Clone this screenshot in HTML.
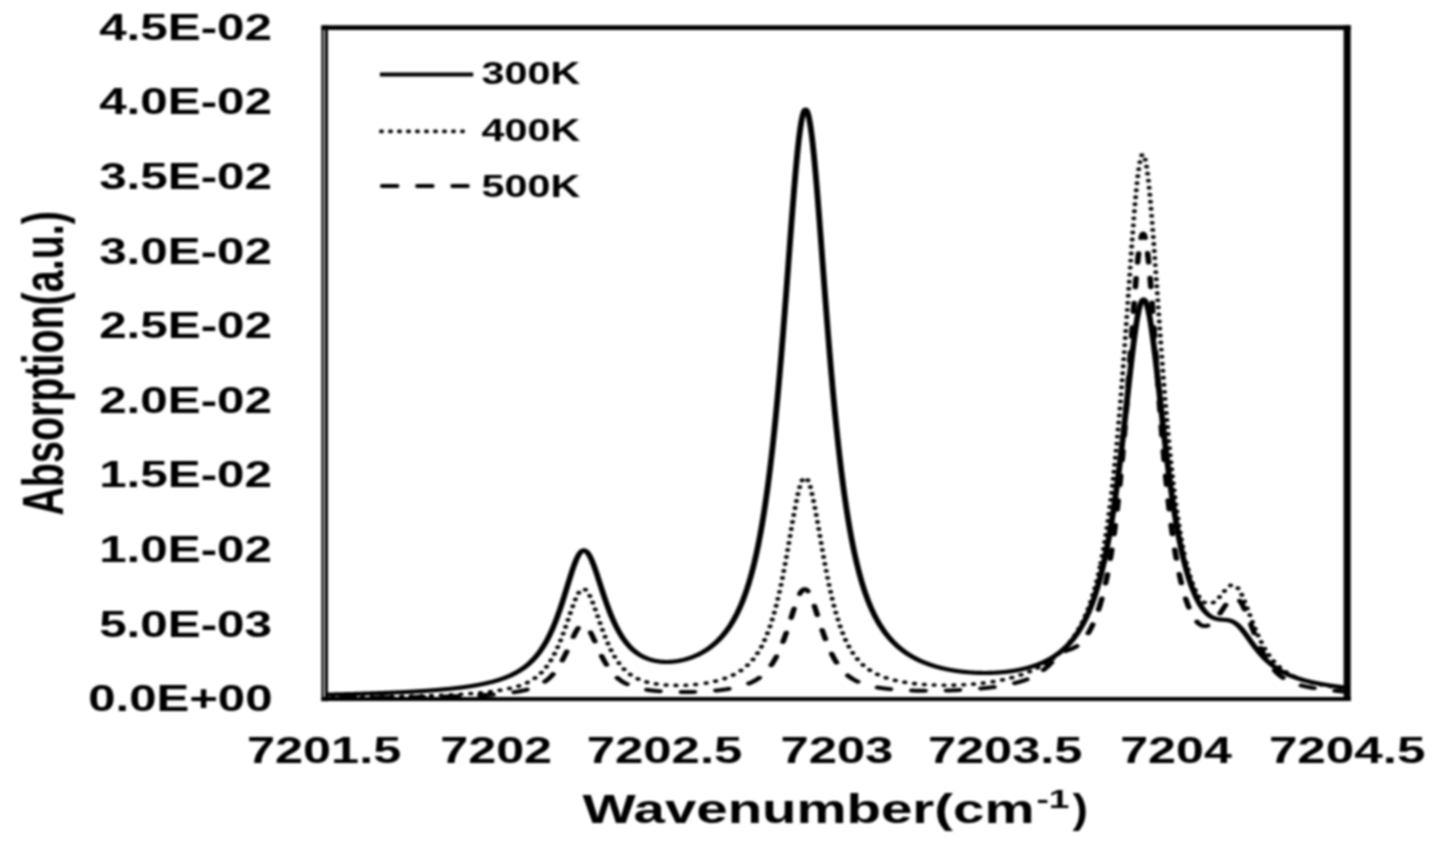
<!DOCTYPE html>
<html><head><meta charset="utf-8"><style>
html,body{margin:0;padding:0;background:#fff;width:1439px;height:848px;overflow:hidden}
svg{display:block;filter:blur(0.95px)}
</style></head><body>
<svg width="1439" height="848" viewBox="0 0 1439 848"><rect width="1439" height="848" fill="#fff"/><text x="99.2" y="39.6" font-family="'Liberation Sans', sans-serif" font-weight="bold" font-size="36.5" textLength="172.8" lengthAdjust="spacingAndGlyphs">4.5E-02</text>
<text x="99.2" y="114.2" font-family="'Liberation Sans', sans-serif" font-weight="bold" font-size="36.5" textLength="172.8" lengthAdjust="spacingAndGlyphs">4.0E-02</text>
<text x="99.2" y="188.9" font-family="'Liberation Sans', sans-serif" font-weight="bold" font-size="36.5" textLength="172.8" lengthAdjust="spacingAndGlyphs">3.5E-02</text>
<text x="99.2" y="263.5" font-family="'Liberation Sans', sans-serif" font-weight="bold" font-size="36.5" textLength="172.8" lengthAdjust="spacingAndGlyphs">3.0E-02</text>
<text x="99.2" y="338.2" font-family="'Liberation Sans', sans-serif" font-weight="bold" font-size="36.5" textLength="172.8" lengthAdjust="spacingAndGlyphs">2.5E-02</text>
<text x="99.2" y="412.8" font-family="'Liberation Sans', sans-serif" font-weight="bold" font-size="36.5" textLength="172.8" lengthAdjust="spacingAndGlyphs">2.0E-02</text>
<text x="99.2" y="487.4" font-family="'Liberation Sans', sans-serif" font-weight="bold" font-size="36.5" textLength="172.8" lengthAdjust="spacingAndGlyphs">1.5E-02</text>
<text x="99.2" y="562.1" font-family="'Liberation Sans', sans-serif" font-weight="bold" font-size="36.5" textLength="172.8" lengthAdjust="spacingAndGlyphs">1.0E-02</text>
<text x="99.2" y="636.7" font-family="'Liberation Sans', sans-serif" font-weight="bold" font-size="36.5" textLength="172.8" lengthAdjust="spacingAndGlyphs">5.0E-03</text>
<text x="88.2" y="711.4" font-family="'Liberation Sans', sans-serif" font-weight="bold" font-size="36.5" textLength="184.3" lengthAdjust="spacingAndGlyphs">0.0E+00</text>
<text x="247.0" y="763.4" font-family="'Liberation Sans', sans-serif" font-weight="bold" font-size="36.5" textLength="154.2" lengthAdjust="spacingAndGlyphs">7201.5</text>
<text x="440.3" y="763.4" font-family="'Liberation Sans', sans-serif" font-weight="bold" font-size="36.5" textLength="111.7" lengthAdjust="spacingAndGlyphs">7202</text>
<text x="586.8" y="763.4" font-family="'Liberation Sans', sans-serif" font-weight="bold" font-size="36.5" textLength="155.5" lengthAdjust="spacingAndGlyphs">7202.5</text>
<text x="780.5" y="763.4" font-family="'Liberation Sans', sans-serif" font-weight="bold" font-size="36.5" textLength="112.8" lengthAdjust="spacingAndGlyphs">7203</text>
<text x="927.9" y="763.4" font-family="'Liberation Sans', sans-serif" font-weight="bold" font-size="36.5" textLength="154.6" lengthAdjust="spacingAndGlyphs">7203.5</text>
<text x="1120.2" y="763.4" font-family="'Liberation Sans', sans-serif" font-weight="bold" font-size="36.5" textLength="111.6" lengthAdjust="spacingAndGlyphs">7204</text>
<text x="1268.9" y="763.4" font-family="'Liberation Sans', sans-serif" font-weight="bold" font-size="36.5" textLength="156.6" lengthAdjust="spacingAndGlyphs">7204.5</text>
<text x="582.5" y="822.7" font-family="'Liberation Sans', sans-serif" font-weight="bold" font-size="41"><tspan textLength="452" lengthAdjust="spacingAndGlyphs">Wavenumber(cm</tspan></text>
<text x="1036.5" y="808.2" font-family="'Liberation Sans', sans-serif" font-weight="bold" font-size="26" textLength="33" lengthAdjust="spacingAndGlyphs">-1</text>
<text x="1072.5" y="822.7" font-family="'Liberation Sans', sans-serif" font-weight="bold" font-size="41" textLength="15.5" lengthAdjust="spacingAndGlyphs">)</text>
<text transform="translate(62.5,515.6) rotate(-90)" font-family="'Liberation Sans', sans-serif" font-weight="bold" font-size="58" textLength="304.4" lengthAdjust="spacingAndGlyphs">Absorption(a.u.)</text>
<line x1="379.9" y1="74.4" x2="473.2" y2="74.4" stroke="#000" stroke-width="4.0"/>
<line x1="380.8" y1="131.4" x2="464.5" y2="131.4" stroke="#000" stroke-width="3.6" stroke-linecap="round" stroke-dasharray="1.4 7.6"/>
<line x1="381.9" y1="186" x2="468.5" y2="186" stroke="#000" stroke-width="3.97" stroke-linecap="round" stroke-dasharray="15.5 19.7"/>
<text x="481.6" y="84.2" font-family="'Liberation Sans', sans-serif" font-weight="bold" font-size="31" textLength="98.6" lengthAdjust="spacingAndGlyphs">300K</text>
<text x="481.6" y="141.1" font-family="'Liberation Sans', sans-serif" font-weight="bold" font-size="31" textLength="98.6" lengthAdjust="spacingAndGlyphs">400K</text>
<text x="481.6" y="196.6" font-family="'Liberation Sans', sans-serif" font-weight="bold" font-size="31" textLength="98.6" lengthAdjust="spacingAndGlyphs">500K</text>
<rect x="321.4" y="25.3" width="2.2" height="676" fill="#000"/>
<rect x="324.9" y="25.3" width="3.0" height="676" fill="#000"/>
<line x1="321.4" y1="27.57" x2="1350.7" y2="27.57" stroke="#000" stroke-width="4.66"/>
<line x1="1347.18" y1="25.3" x2="1347.18" y2="701" stroke="#000" stroke-width="7.06"/>
<line x1="321.4" y1="699.0" x2="1350.7" y2="699.0" stroke="#000" stroke-width="4.2"/>
<g transform="scale(1.4,1)" fill="none" stroke="#000" stroke-linejoin="round">
<path d="M232.86,694.61 233.21,694.60 233.57,694.59 233.93,694.58 234.29,694.57 234.64,694.56 235.00,694.55 235.36,694.54 235.71,694.53 236.07,694.51 236.43,694.50 236.79,694.49 237.14,694.48 237.50,694.47 237.86,694.46 238.21,694.45 238.57,694.44 238.93,694.42 239.29,694.41 239.64,694.40 240.00,694.39 240.36,694.38 240.71,694.37 241.07,694.36 241.43,694.34 241.79,694.33 242.14,694.32 242.50,694.31 242.86,694.30 243.21,694.28 243.57,694.27 243.93,694.26 244.29,694.25 244.64,694.24 245.00,694.22 245.36,694.21 245.71,694.20 246.07,694.19 246.43,694.17 246.79,694.16 247.14,694.15 247.50,694.13 247.86,694.12 248.21,694.11 248.57,694.10 248.93,694.08 249.29,694.07 249.64,694.06 250.00,694.04 250.36,694.03 250.71,694.02 251.07,694.00 251.43,693.99 251.79,693.98 252.14,693.96 252.50,693.95 252.86,693.94 253.21,693.92 253.57,693.91 253.93,693.89 254.29,693.88 254.64,693.87 255.00,693.85 255.36,693.84 255.71,693.82 256.07,693.81 256.43,693.79 256.79,693.78 257.14,693.76 257.50,693.75 257.86,693.73 258.21,693.72 258.57,693.70 258.93,693.69 259.29,693.67 259.64,693.66 260.00,693.64 260.36,693.63 260.71,693.61 261.07,693.60 261.43,693.58 261.79,693.57 262.14,693.55 262.50,693.53 262.86,693.52 263.21,693.50 263.57,693.49 263.93,693.47 264.29,693.45 264.64,693.44 265.00,693.42 265.36,693.40 265.71,693.39 266.07,693.37 266.43,693.35 266.79,693.34 267.14,693.32 267.50,693.30 267.86,693.29 268.21,693.27 268.57,693.25 268.93,693.23 269.29,693.22 269.64,693.20 270.00,693.18 270.36,693.16 270.71,693.14 271.07,693.12 271.43,693.11 271.79,693.09 272.14,693.07 272.50,693.05 272.86,693.03 273.21,693.01 273.57,692.99 273.93,692.98 274.29,692.96 274.64,692.94 275.00,692.92 275.36,692.90 275.71,692.88 276.07,692.86 276.43,692.84 276.79,692.82 277.14,692.80 277.50,692.78 277.86,692.76 278.21,692.74 278.57,692.72 278.93,692.70 279.29,692.67 279.64,692.65 280.00,692.63 280.36,692.61 280.71,692.59 281.07,692.57 281.43,692.55 281.79,692.52 282.14,692.50 282.50,692.48 282.86,692.46 283.21,692.43 283.57,692.41 283.93,692.39 284.29,692.37 284.64,692.34 285.00,692.32 285.36,692.30 285.71,692.27 286.07,692.25 286.43,692.23 286.79,692.20 287.14,692.18 287.50,692.15 287.86,692.13 288.21,692.10 288.57,692.08 288.93,692.06 289.29,692.03 289.64,692.00 290.00,691.98 290.36,691.95 290.71,691.93 291.07,691.90 291.43,691.88 291.79,691.85 292.14,691.82 292.50,691.80 292.86,691.77 293.21,691.74 293.57,691.71 293.93,691.69 294.29,691.66 294.64,691.63 295.00,691.60 295.36,691.58 295.71,691.55 296.07,691.52 296.43,691.49 296.79,691.46 297.14,691.43 297.50,691.40 297.86,691.37 298.21,691.34 298.57,691.31 298.93,691.28 299.29,691.25 299.64,691.22 300.00,691.19 300.36,691.16 300.71,691.13 301.07,691.09 301.43,691.06 301.79,691.03 302.14,691.00 302.50,690.96 302.86,690.93 303.21,690.90 303.57,690.86 303.93,690.83 304.29,690.80 304.64,690.76 305.00,690.73 305.36,690.69 305.71,690.66 306.07,690.62 306.43,690.59 306.79,690.55 307.14,690.51 307.50,690.48 307.86,690.44 308.21,690.40 308.57,690.37 308.93,690.33 309.29,690.29 309.64,690.25 310.00,690.21 310.36,690.17 310.71,690.14 311.07,690.10 311.43,690.06 311.79,690.02 312.14,689.97 312.50,689.93 312.86,689.89 313.21,689.85 313.57,689.81 313.93,689.77 314.29,689.72 314.64,689.68 315.00,689.64 315.36,689.59 315.71,689.55 316.07,689.50 316.43,689.46 316.79,689.41 317.14,689.37 317.50,689.32 317.86,689.27 318.21,689.23 318.57,689.18 318.93,689.13 319.29,689.08 319.64,689.03 320.00,688.99 320.36,688.94 320.71,688.89 321.07,688.83 321.43,688.78 321.79,688.73 322.14,688.68 322.50,688.63 322.86,688.57 323.21,688.52 323.57,688.47 323.93,688.41 324.29,688.36 324.64,688.30 325.00,688.25 325.36,688.19 325.71,688.13 326.07,688.07 326.43,688.01 326.79,687.96 327.14,687.90 327.50,687.84 327.86,687.78 328.21,687.71 328.57,687.65 328.93,687.59 329.29,687.53 329.64,687.46 330.00,687.40 330.36,687.33 330.71,687.27 331.07,687.20 331.43,687.13 331.79,687.07 332.14,687.00 332.50,686.93 332.86,686.86 333.21,686.79 333.57,686.71 333.93,686.64 334.29,686.57 334.64,686.50 335.00,686.42 335.36,686.35 335.71,686.27 336.07,686.19 336.43,686.11 336.79,686.03 337.14,685.95 337.50,685.87 337.86,685.79 338.21,685.71 338.57,685.63 338.93,685.54 339.29,685.46 339.64,685.37 340.00,685.28 340.36,685.19 340.71,685.11 341.07,685.01 341.43,684.92 341.79,684.83 342.14,684.74 342.50,684.64 342.86,684.55 343.21,684.45 343.57,684.35 343.93,684.25 344.29,684.15 344.64,684.05 345.00,683.95 345.36,683.84 345.71,683.74 346.07,683.63 346.43,683.52 346.79,683.41 347.14,683.30 347.50,683.19 347.86,683.07 348.21,682.96 348.57,682.84 348.93,682.72 349.29,682.60 349.64,682.48 350.00,682.36 350.36,682.23 350.71,682.11 351.07,681.98 351.43,681.85 351.79,681.72 352.14,681.58 352.50,681.45 352.86,681.31 353.21,681.17 353.57,681.03 353.93,680.89 354.29,680.74 354.64,680.59 355.00,680.45 355.36,680.29 355.71,680.14 356.07,679.98 356.43,679.83 356.79,679.67 357.14,679.50 357.50,679.34 357.86,679.17 358.21,679.00 358.57,678.83 358.93,678.65 359.29,678.48 359.64,678.30 360.00,678.11 360.36,677.93 360.71,677.74 361.07,677.55 361.43,677.35 361.79,677.15 362.14,676.95 362.50,676.75 362.86,676.54 363.21,676.33 363.57,676.12 363.93,675.90 364.29,675.68 364.64,675.45 365.00,675.22 365.36,674.99 365.71,674.75 366.07,674.51 366.43,674.27 366.79,674.02 367.14,673.77 367.50,673.51 367.86,673.25 368.21,672.98 368.57,672.71 368.93,672.43 369.29,672.15 369.64,671.87 370.00,671.58 370.36,671.28 370.71,670.98 371.07,670.67 371.43,670.36 371.79,670.04 372.14,669.72 372.50,669.39 372.86,669.05 373.21,668.71 373.57,668.36 373.93,668.00 374.29,667.64 374.64,667.27 375.00,666.90 375.36,666.51 375.71,666.12 376.07,665.72 376.43,665.32 376.79,664.90 377.14,664.48 377.50,664.05 377.86,663.61 378.21,663.16 378.57,662.71 378.93,662.24 379.29,661.76 379.64,661.28 380.00,660.79 380.36,660.28 380.71,659.77 381.07,659.24 381.43,658.70 381.79,658.16 382.14,657.60 382.50,657.03 382.86,656.45 383.21,655.85 383.57,655.25 383.93,654.63 384.29,654.00 384.64,653.35 385.00,652.70 385.36,652.03 385.71,651.34 386.07,650.64 386.43,649.93 386.79,649.20 387.14,648.45 387.50,647.69 387.86,646.92 388.21,646.13 388.57,645.32 388.93,644.49 389.29,643.65 389.64,642.79 390.00,641.92 390.36,641.02 390.71,640.11 391.07,639.18 391.43,638.23 391.79,637.26 392.14,636.27 392.50,635.26 392.86,634.23 393.21,633.18 393.57,632.11 393.93,631.02 394.29,629.91 394.64,628.78 395.00,627.62 395.36,626.45 395.71,625.25 396.07,624.03 396.43,622.79 396.79,621.53 397.14,620.25 397.50,618.94 397.86,617.61 398.21,616.27 398.57,614.90 398.93,613.51 399.29,612.09 399.64,610.66 400.00,609.21 400.36,607.74 400.71,606.25 401.07,604.75 401.43,603.22 401.79,601.68 402.14,600.12 402.50,598.55 402.86,596.97 403.21,595.38 403.57,593.77 403.93,592.16 404.29,590.54 404.64,588.91 405.00,587.28 405.36,585.65 405.71,584.03 406.07,582.40 406.43,580.78 406.79,579.17 407.14,577.57 407.50,575.98 407.86,574.42 408.21,572.87 408.57,571.34 408.93,569.85 409.29,568.38 409.64,566.95 410.00,565.55 410.36,564.19 410.71,562.88 411.07,561.62 411.43,560.40 411.79,559.25 412.14,558.15 412.50,557.11 412.86,556.13 413.21,555.23 413.57,554.39 413.93,553.63 414.29,552.94 414.64,552.34 415.00,551.81 415.36,551.36 415.71,551.00 416.07,550.73 416.43,550.53 416.79,550.43 417.14,550.41 417.50,550.48 417.86,550.63 418.21,550.87 418.57,551.19 418.93,551.60 419.29,552.08 419.64,552.65 420.00,553.29 420.36,554.01 420.71,554.80 421.07,555.66 421.43,556.58 421.79,557.57 422.14,558.62 422.50,559.72 422.86,560.88 423.21,562.09 423.57,563.34 423.93,564.64 424.29,565.97 424.64,567.34 425.00,568.75 425.36,570.18 425.71,571.63 426.07,573.11 426.43,574.60 426.79,576.12 427.14,577.64 427.50,579.17 427.86,580.72 428.21,582.26 428.57,583.81 428.93,585.36 429.29,586.90 429.64,588.44 430.00,589.98 430.36,591.51 430.71,593.02 431.07,594.53 431.43,596.02 431.79,597.50 432.14,598.97 432.50,600.42 432.86,601.85 433.21,603.27 433.57,604.66 433.93,606.04 434.29,607.40 434.64,608.73 435.00,610.05 435.36,611.34 435.71,612.62 436.07,613.87 436.43,615.10 436.79,616.31 437.14,617.50 437.50,618.66 437.86,619.80 438.21,620.92 438.57,622.02 438.93,623.10 439.29,624.16 439.64,625.19 440.00,626.20 440.36,627.19 440.71,628.16 441.07,629.11 441.43,630.04 441.79,630.95 442.14,631.84 442.50,632.71 442.86,633.56 443.21,634.39 443.57,635.20 443.93,635.99 444.29,636.77 444.64,637.53 445.00,638.27 445.36,638.99 445.71,639.69 446.07,640.38 446.43,641.05 446.79,641.71 447.14,642.35 447.50,642.98 447.86,643.59 448.21,644.18 448.57,644.76 448.93,645.33 449.29,645.88 449.64,646.42 450.00,646.94 450.36,647.45 450.71,647.95 451.07,648.44 451.43,648.91 451.79,649.37 452.14,649.82 452.50,650.26 452.86,650.69 453.21,651.10 453.57,651.51 453.93,651.90 454.29,652.28 454.64,652.66 455.00,653.02 455.36,653.37 455.71,653.72 456.07,654.05 456.43,654.37 456.79,654.69 457.14,655.00 457.50,655.29 457.86,655.58 458.21,655.86 458.57,656.14 458.93,656.40 459.29,656.66 459.64,656.91 460.00,657.15 460.36,657.38 460.71,657.61 461.07,657.83 461.43,658.04 461.79,658.25 462.14,658.45 462.50,658.64 462.86,658.82 463.21,659.00 463.57,659.18 463.93,659.34 464.29,659.51 464.64,659.66 465.00,659.81 465.36,659.95 465.71,660.09 466.07,660.22 466.43,660.35 466.79,660.47 467.14,660.59 467.50,660.70 467.86,660.80 468.21,660.90 468.57,661.00 468.93,661.09 469.29,661.18 469.64,661.26 470.00,661.33 470.36,661.40 470.71,661.47 471.07,661.53 471.43,661.59 471.79,661.65 472.14,661.70 472.50,661.74 472.86,661.78 473.21,661.82 473.57,661.85 473.93,661.88 474.29,661.90 474.64,661.92 475.00,661.94 475.36,661.95 475.71,661.96 476.07,661.96 476.43,661.96 476.79,661.96 477.14,661.95 477.50,661.94 477.86,661.92 478.21,661.90 478.57,661.88 478.93,661.85 479.29,661.82 479.64,661.79 480.00,661.75 480.36,661.71 480.71,661.66 481.07,661.62 481.43,661.56 481.79,661.51 482.14,661.45 482.50,661.38 482.86,661.32 483.21,661.25 483.57,661.17 483.93,661.10 484.29,661.01 484.64,660.93 485.00,660.84 485.36,660.75 485.71,660.65 486.07,660.55 486.43,660.45 486.79,660.34 487.14,660.23 487.50,660.12 487.86,660.00 488.21,659.88 488.57,659.76 488.93,659.63 489.29,659.50 489.64,659.36 490.00,659.22 490.36,659.08 490.71,658.93 491.07,658.78 491.43,658.62 491.79,658.46 492.14,658.30 492.50,658.14 492.86,657.96 493.21,657.79 493.57,657.61 493.93,657.43 494.29,657.24 494.64,657.05 495.00,656.86 495.36,656.66 495.71,656.45 496.07,656.25 496.43,656.04 496.79,655.82 497.14,655.60 497.50,655.37 497.86,655.14 498.21,654.91 498.57,654.67 498.93,654.43 499.29,654.18 499.64,653.93 500.00,653.67 500.36,653.41 500.71,653.14 501.07,652.87 501.43,652.59 501.79,652.31 502.14,652.02 502.50,651.73 502.86,651.43 503.21,651.13 503.57,650.82 503.93,650.50 504.29,650.18 504.64,649.86 505.00,649.53 505.36,649.19 505.71,648.84 506.07,648.49 506.43,648.14 506.79,647.78 507.14,647.41 507.50,647.03 507.86,646.65 508.21,646.26 508.57,645.87 508.93,645.47 509.29,645.06 509.64,644.64 510.00,644.22 510.36,643.79 510.71,643.35 511.07,642.90 511.43,642.45 511.79,641.99 512.14,641.52 512.50,641.04 512.86,640.55 513.21,640.06 513.57,639.55 513.93,639.04 514.29,638.52 514.64,637.99 515.00,637.44 515.36,636.89 515.71,636.33 516.07,635.76 516.43,635.18 516.79,634.59 517.14,633.99 517.50,633.37 517.86,632.75 518.21,632.11 518.57,631.46 518.93,630.80 519.29,630.13 519.64,629.45 520.00,628.75 520.36,628.04 520.71,627.31 521.07,626.57 521.43,625.82 521.79,625.06 522.14,624.27 522.50,623.48 522.86,622.67 523.21,621.84 523.57,620.99 523.93,620.13 524.29,619.26 524.64,618.36 525.00,617.45 525.36,616.52 525.71,615.57 526.07,614.60 526.43,613.61 526.79,612.60 527.14,611.57 527.50,610.52 527.86,609.45 528.21,608.36 528.57,607.24 528.93,606.10 529.29,604.94 529.64,603.75 530.00,602.54 530.36,601.30 530.71,600.04 531.07,598.74 531.43,597.42 531.79,596.08 532.14,594.70 532.50,593.29 532.86,591.86 533.21,590.39 533.57,588.89 533.93,587.36 534.29,585.79 534.64,584.19 535.00,582.56 535.36,580.89 535.71,579.18 536.07,577.43 536.43,575.65 536.79,573.83 537.14,571.96 537.50,570.06 537.86,568.11 538.21,566.12 538.57,564.08 538.93,562.00 539.29,559.88 539.64,557.70 540.00,555.48 540.36,553.21 540.71,550.89 541.07,548.51 541.43,546.09 541.79,543.61 542.14,541.07 542.50,538.48 542.86,535.83 543.21,533.13 543.57,530.36 543.93,527.53 544.29,524.64 544.64,521.69 545.00,518.67 545.36,515.59 545.71,512.44 546.07,509.23 546.43,505.94 546.79,502.58 547.14,499.16 547.50,495.66 547.86,492.08 548.21,488.43 548.57,484.71 548.93,480.90 549.29,477.02 549.64,473.06 550.00,469.02 550.36,464.90 550.71,460.69 551.07,456.41 551.43,452.04 551.79,447.58 552.14,443.04 552.50,438.41 552.86,433.69 553.21,428.89 553.57,424.00 553.93,419.02 554.29,413.96 554.64,408.80 555.00,403.56 555.36,398.23 555.71,392.82 556.07,387.31 556.43,381.73 556.79,376.05 557.14,370.30 557.50,364.46 557.86,358.54 558.21,352.55 558.57,346.47 558.93,340.33 559.29,334.12 559.64,327.83 560.00,321.49 560.36,315.08 560.71,308.63 561.07,302.12 561.43,295.56 561.79,288.97 562.14,282.35 562.50,275.70 562.86,269.03 563.21,262.35 563.57,255.67 563.93,248.99 564.29,242.33 564.64,235.70 565.00,229.10 565.36,222.54 565.71,216.04 566.07,209.62 566.43,203.27 566.79,197.02 567.14,190.87 567.50,184.85 567.86,178.96 568.21,173.22 568.57,167.63 568.93,162.23 569.29,157.01 569.64,152.00 570.00,147.21 570.36,142.65 570.71,138.33 571.07,134.27 571.43,130.48 571.79,126.98 572.14,123.77 572.50,120.86 572.86,118.27 573.21,116.00 573.57,114.07 573.93,112.47 574.29,111.21 574.64,110.30 575.00,109.74 575.36,109.54 575.71,109.69 576.07,110.19 576.43,111.05 576.79,112.25 577.14,113.80 577.50,115.68 577.86,117.90 578.21,120.45 578.57,123.30 578.93,126.47 579.29,129.93 579.64,133.68 580.00,137.69 580.36,141.97 580.71,146.50 581.07,151.26 581.43,156.24 581.79,161.43 582.14,166.80 582.50,172.36 582.86,178.08 583.21,183.95 583.57,189.96 583.93,196.09 584.29,202.33 584.64,208.66 585.00,215.08 585.36,221.57 585.71,228.12 586.07,234.72 586.43,241.35 586.79,248.01 587.14,254.69 587.50,261.37 587.86,268.06 588.21,274.73 588.57,281.39 588.93,288.02 589.29,294.62 589.64,301.19 590.00,307.71 590.36,314.18 590.71,320.59 591.07,326.95 591.43,333.25 591.79,339.48 592.14,345.64 592.50,351.73 592.86,357.74 593.21,363.67 593.57,369.53 593.93,375.30 594.29,380.99 594.64,386.60 595.00,392.12 595.36,397.55 595.71,402.90 596.07,408.16 596.43,413.33 596.79,418.41 597.14,423.41 597.50,428.32 597.86,433.14 598.21,437.87 598.57,442.52 598.93,447.08 599.29,451.56 599.64,455.95 600.00,460.25 600.36,464.47 600.71,468.61 601.07,472.67 601.43,476.65 601.79,480.55 602.14,484.37 602.50,488.11 602.86,491.78 603.21,495.37 603.57,498.89 603.93,502.33 604.29,505.71 604.64,509.01 605.00,512.24 605.36,515.41 605.71,518.51 606.07,521.54 606.43,524.51 606.79,527.41 607.14,530.26 607.50,533.04 607.86,535.76 608.21,538.43 608.57,541.03 608.93,543.58 609.29,546.08 609.64,548.52 610.00,550.91 610.36,553.25 610.71,555.53 611.07,557.77 611.43,559.96 611.79,562.10 612.14,564.20 612.50,566.25 612.86,568.25 613.21,570.21 613.57,572.13 613.93,574.01 614.29,575.85 614.64,577.65 615.00,579.41 615.36,581.13 615.71,582.81 616.07,584.46 616.43,586.08 616.79,587.66 617.14,589.20 617.50,590.72 617.86,592.20 618.21,593.65 618.57,595.07 618.93,596.46 619.29,597.82 619.64,599.16 620.00,600.46 620.36,601.74 620.71,602.99 621.07,604.22 621.43,605.42 621.79,606.60 622.14,607.76 622.50,608.89 622.86,610.00 623.21,611.08 623.57,612.15 623.93,613.19 624.29,614.21 624.64,615.22 625.00,616.20 625.36,617.17 625.71,618.11 626.07,619.04 626.43,619.95 626.79,620.84 627.14,621.72 627.50,622.58 627.86,623.42 628.21,624.25 628.57,625.06 628.93,625.86 629.29,626.65 629.64,627.42 630.00,628.17 630.36,628.91 630.71,629.64 631.07,630.36 631.43,631.06 631.79,631.75 632.14,632.43 632.50,633.09 632.86,633.75 633.21,634.39 633.57,635.02 633.93,635.65 634.29,636.26 634.64,636.86 635.00,637.45 635.36,638.03 635.71,638.60 636.07,639.16 636.43,639.71 636.79,640.26 637.14,640.79 637.50,641.32 637.86,641.84 638.21,642.34 638.57,642.85 638.93,643.34 639.29,643.82 639.64,644.30 640.00,644.77 640.36,645.23 640.71,645.69 641.07,646.14 641.43,646.58 641.79,647.01 642.14,647.44 642.50,647.86 642.86,648.27 643.21,648.68 643.57,649.08 643.93,649.48 644.29,649.87 644.64,650.25 645.00,650.63 645.36,651.00 645.71,651.37 646.07,651.73 646.43,652.09 646.79,652.44 647.14,652.79 647.50,653.13 647.86,653.46 648.21,653.79 648.57,654.12 648.93,654.44 649.29,654.76 649.64,655.07 650.00,655.38 650.36,655.68 650.71,655.98 651.07,656.27 651.43,656.56 651.79,656.85 652.14,657.13 652.50,657.41 652.86,657.68 653.21,657.95 653.57,658.22 653.93,658.48 654.29,658.74 654.64,659.00 655.00,659.25 655.36,659.50 655.71,659.74 656.07,659.98 656.43,660.22 656.79,660.45 657.14,660.68 657.50,660.91 657.86,661.14 658.21,661.36 658.57,661.57 658.93,661.79 659.29,662.00 659.64,662.21 660.00,662.42 660.36,662.62 660.71,662.82 661.07,663.02 661.43,663.21 661.79,663.40 662.14,663.59 662.50,663.78 662.86,663.96 663.21,664.15 663.57,664.32 663.93,664.50 664.29,664.67 664.64,664.84 665.00,665.01 665.36,665.18 665.71,665.34 666.07,665.51 666.43,665.66 666.79,665.82 667.14,665.98 667.50,666.13 667.86,666.28 668.21,666.43 668.57,666.57 668.93,666.72 669.29,666.86 669.64,667.00 670.00,667.14 670.36,667.27 670.71,667.40 671.07,667.54 671.43,667.66 671.79,667.79 672.14,667.92 672.50,668.04 672.86,668.16 673.21,668.28 673.57,668.40 673.93,668.52 674.29,668.63 674.64,668.74 675.00,668.85 675.36,668.96 675.71,669.07 676.07,669.18 676.43,669.28 676.79,669.38 677.14,669.48 677.50,669.58 677.86,669.68 678.21,669.77 678.57,669.87 678.93,669.96 679.29,670.05 679.64,670.14 680.00,670.23 680.36,670.31 680.71,670.40 681.07,670.48 681.43,670.56 681.79,670.64 682.14,670.72 682.50,670.80 682.86,670.87 683.21,670.94 683.57,671.02 683.93,671.09 684.29,671.16 684.64,671.23 685.00,671.29 685.36,671.36 685.71,671.42 686.07,671.48 686.43,671.54 686.79,671.60 687.14,671.66 687.50,671.72 687.86,671.77 688.21,671.83 688.57,671.88 688.93,671.93 689.29,671.98 689.64,672.03 690.00,672.08 690.36,672.13 690.71,672.17 691.07,672.22 691.43,672.26 691.79,672.30 692.14,672.34 692.50,672.38 692.86,672.42 693.21,672.45 693.57,672.49 693.93,672.52 694.29,672.55 694.64,672.58 695.00,672.61 695.36,672.64 695.71,672.67 696.07,672.70 696.43,672.72 696.79,672.74 697.14,672.77 697.50,672.79 697.86,672.81 698.21,672.83 698.57,672.84 698.93,672.86 699.29,672.88 699.64,672.89 700.00,672.90 700.36,672.91 700.71,672.92 701.07,672.93 701.43,672.94 701.79,672.95 702.14,672.95 702.50,672.96 702.86,672.96 703.21,672.96 703.57,672.96 703.93,672.96 704.29,672.96 704.64,672.96 705.00,672.95 705.36,672.95 705.71,672.94 706.07,672.93 706.43,672.92 706.79,672.91 707.14,672.90 707.50,672.89 707.86,672.87 708.21,672.86 708.57,672.84 708.93,672.82 709.29,672.80 709.64,672.78 710.00,672.76 710.36,672.74 710.71,672.71 711.07,672.69 711.43,672.66 711.79,672.63 712.14,672.60 712.50,672.57 712.86,672.54 713.21,672.50 713.57,672.47 713.93,672.43 714.29,672.39 714.64,672.35 715.00,672.31 715.36,672.27 715.71,672.23 716.07,672.18 716.43,672.14 716.79,672.09 717.14,672.04 717.50,671.99 717.86,671.94 718.21,671.88 718.57,671.83 718.93,671.77 719.29,671.72 719.64,671.66 720.00,671.59 720.36,671.53 720.71,671.47 721.07,671.40 721.43,671.34 721.79,671.27 722.14,671.20 722.50,671.13 722.86,671.05 723.21,670.98 723.57,670.90 723.93,670.82 724.29,670.74 724.64,670.66 725.00,670.58 725.36,670.49 725.71,670.40 726.07,670.31 726.43,670.22 726.79,670.13 727.14,670.04 727.50,669.94 727.86,669.84 728.21,669.74 728.57,669.64 728.93,669.54 729.29,669.43 729.64,669.32 730.00,669.21 730.36,669.10 730.71,668.99 731.07,668.87 731.43,668.75 731.79,668.63 732.14,668.51 732.50,668.39 732.86,668.26 733.21,668.13 733.57,668.00 733.93,667.87 734.29,667.73 734.64,667.59 735.00,667.45 735.36,667.31 735.71,667.16 736.07,667.02 736.43,666.87 736.79,666.71 737.14,666.56 737.50,666.40 737.86,666.24 738.21,666.08 738.57,665.91 738.93,665.74 739.29,665.57 739.64,665.39 740.00,665.22 740.36,665.04 740.71,664.85 741.07,664.67 741.43,664.48 741.79,664.28 742.14,664.09 742.50,663.89 742.86,663.69 743.21,663.48 743.57,663.27 743.93,663.06 744.29,662.84 744.64,662.63 745.00,662.40 745.36,662.18 745.71,661.95 746.07,661.71 746.43,661.47 746.79,661.23 747.14,660.99 747.50,660.74 747.86,660.48 748.21,660.22 748.57,659.96 748.93,659.69 749.29,659.42 749.64,659.15 750.00,658.87 750.36,658.58 750.71,658.29 751.07,658.00 751.43,657.70 751.79,657.40 752.14,657.09 752.50,656.77 752.86,656.45 753.21,656.13 753.57,655.80 753.93,655.46 754.29,655.12 754.64,654.77 755.00,654.42 755.36,654.06 755.71,653.70 756.07,653.33 756.43,652.95 756.79,652.56 757.14,652.17 757.50,651.77 757.86,651.37 758.21,650.96 758.57,650.54 758.93,650.11 759.29,649.68 759.64,649.24 760.00,648.79 760.36,648.33 760.71,647.87 761.07,647.40 761.43,646.91 761.79,646.42 762.14,645.92 762.50,645.42 762.86,644.90 763.21,644.37 763.57,643.84 763.93,643.29 764.29,642.73 764.64,642.17 765.00,641.59 765.36,641.00 765.71,640.41 766.07,639.80 766.43,639.17 766.79,638.54 767.14,637.90 767.50,637.24 767.86,636.57 768.21,635.89 768.57,635.19 768.93,634.49 769.29,633.76 769.64,633.03 770.00,632.28 770.36,631.51 770.71,630.73 771.07,629.93 771.43,629.12 771.79,628.29 772.14,627.45 772.50,626.59 772.86,625.71 773.21,624.81 773.57,623.90 773.93,622.97 774.29,622.02 774.64,621.04 775.00,620.05 775.36,619.04 775.71,618.01 776.07,616.96 776.43,615.88 776.79,614.78 777.14,613.66 777.50,612.52 777.86,611.35 778.21,610.16 778.57,608.94 778.93,607.70 779.29,606.43 779.64,605.13 780.00,603.80 780.36,602.45 780.71,601.07 781.07,599.66 781.43,598.22 781.79,596.74 782.14,595.24 782.50,593.70 782.86,592.13 783.21,590.53 783.57,588.89 783.93,587.22 784.29,585.51 784.64,583.76 785.00,581.97 785.36,580.15 785.71,578.29 786.07,576.38 786.43,574.44 786.79,572.45 787.14,570.42 787.50,568.34 787.86,566.23 788.21,564.06 788.57,561.85 788.93,559.59 789.29,557.28 789.64,554.93 790.00,552.52 790.36,550.06 790.71,547.55 791.07,544.99 791.43,542.37 791.79,539.70 792.14,536.98 792.50,534.19 792.86,531.35 793.21,528.46 793.57,525.50 793.93,522.49 794.29,519.41 794.64,516.28 795.00,513.08 795.36,509.83 795.71,506.51 796.07,503.13 796.43,499.69 796.79,496.18 797.14,492.62 797.50,488.99 797.86,485.30 798.21,481.55 798.57,477.74 798.93,473.87 799.29,469.94 799.64,465.95 800.00,461.91 800.36,457.81 800.71,453.66 801.07,449.45 801.43,445.20 801.79,440.90 802.14,436.56 802.50,432.18 802.86,427.76 803.21,423.30 803.57,418.82 803.93,414.31 804.29,409.79 804.64,405.25 805.00,400.70 805.36,396.15 805.71,391.60 806.07,387.06 806.43,382.54 806.79,378.04 807.14,373.58 807.50,369.16 807.86,364.79 808.21,360.47 808.57,356.23 808.93,352.06 809.29,347.98 809.64,344.00 810.00,340.13 810.36,336.37 810.71,332.75 811.07,329.26 811.43,325.92 811.79,322.73 812.14,319.72 812.50,316.88 812.86,314.23 813.21,311.78 813.57,309.53 813.93,307.49 814.29,305.67 814.64,304.08 815.00,302.71 815.36,301.59 815.71,300.70 816.07,300.05 816.43,299.66 816.79,299.51 817.14,299.60 817.50,299.95 817.86,300.54 818.21,301.37 818.57,302.44 818.93,303.75 819.29,305.29 819.64,307.06 820.00,309.04 820.36,311.24 820.71,313.64 821.07,316.24 821.43,319.02 821.79,321.99 822.14,325.12 822.50,328.41 822.86,331.85 823.21,335.43 823.57,339.13 823.93,342.96 824.29,346.89 824.64,350.92 825.00,355.03 825.36,359.23 825.71,363.49 826.07,367.82 826.43,372.19 826.79,376.60 827.14,381.05 827.50,385.52 827.86,390.01 828.21,394.51 828.57,399.01 828.93,403.51 829.29,408.00 829.64,412.48 830.00,416.94 830.36,421.37 830.71,425.77 831.07,430.13 831.43,434.46 831.79,438.75 832.14,443.00 832.50,447.19 832.86,451.34 833.21,455.44 833.57,459.48 833.93,463.46 834.29,467.39 834.64,471.26 835.00,475.07 835.36,478.81 835.71,482.50 836.07,486.12 836.43,489.68 836.79,493.18 837.14,496.61 837.50,499.98 837.86,503.28 838.21,506.53 838.57,509.71 838.93,512.82 839.29,515.88 839.64,518.87 840.00,521.80 840.36,524.67 840.71,527.48 841.07,530.23 841.43,532.92 841.79,535.55 842.14,538.12 842.50,540.64 842.86,543.10 843.21,545.51 843.57,547.86 843.93,550.16 844.29,552.40 844.64,554.59 845.00,556.74 845.36,558.83 845.71,560.87 846.07,562.86 846.43,564.81 846.79,566.70 847.14,568.56 847.50,570.36 847.86,572.12 848.21,573.84 848.57,575.52 848.93,577.15 849.29,578.74 849.64,580.29 850.00,581.80 850.36,583.27 850.71,584.70 851.07,586.09 851.43,587.45 851.79,588.77 852.14,590.05 852.50,591.30 852.86,592.51 853.21,593.69 853.57,594.84 853.93,595.95 854.29,597.03 854.64,598.07 855.00,599.09 855.36,600.07 855.71,601.03 856.07,601.95 856.43,602.85 856.79,603.71 857.14,604.55 857.50,605.36 857.86,606.14 858.21,606.89 858.57,607.62 858.93,608.32 859.29,609.00 859.64,609.64 860.00,610.27 860.36,610.87 860.71,611.44 861.07,611.99 861.43,612.52 861.79,613.02 862.14,613.51 862.50,613.96 862.86,614.40 863.21,614.82 863.57,615.21 863.93,615.58 864.29,615.94 864.64,616.27 865.00,616.58 865.36,616.87 865.71,617.15 866.07,617.41 866.43,617.65 866.79,617.87 867.14,618.07 867.50,618.26 867.86,618.44 868.21,618.60 868.57,618.74 868.93,618.88 869.29,618.99 869.64,619.10 870.00,619.20 870.36,619.28 870.71,619.36 871.07,619.42 871.43,619.48 871.79,619.54 872.14,619.58 872.50,619.62 872.86,619.66 873.21,619.69 873.57,619.73 873.93,619.76 874.29,619.79 874.64,619.83 875.00,619.86 875.36,619.91 875.71,619.95 876.07,620.01 876.43,620.07 876.79,620.14 877.14,620.22 877.50,620.31 877.86,620.42 878.21,620.54 878.57,620.67 878.93,620.82 879.29,620.98 879.64,621.17 880.00,621.37 880.36,621.59 880.71,621.83 881.07,622.09 881.43,622.37 881.79,622.67 882.14,622.99 882.50,623.33 882.86,623.70 883.21,624.08 883.57,624.49 883.93,624.92 884.29,625.37 884.64,625.84 885.00,626.32 885.36,626.83 885.71,627.36 886.07,627.90 886.43,628.46 886.79,629.03 887.14,629.62 887.50,630.23 887.86,630.84 888.21,631.47 888.57,632.11 888.93,632.76 889.29,633.42 889.64,634.09 890.00,634.76 890.36,635.44 890.71,636.12 891.07,636.81 891.43,637.50 891.79,638.20 892.14,638.89 892.50,639.59 892.86,640.28 893.21,640.98 893.57,641.67 893.93,642.36 894.29,643.05 894.64,643.74 895.00,644.42 895.36,645.09 895.71,645.76 896.07,646.43 896.43,647.09 896.79,647.74 897.14,648.39 897.50,649.03 897.86,649.66 898.21,650.29 898.57,650.90 898.93,651.52 899.29,652.12 899.64,652.71 900.00,653.30 900.36,653.88 900.71,654.45 901.07,655.01 901.43,655.57 901.79,656.11 902.14,656.65 902.50,657.18 902.86,657.70 903.21,658.21 903.57,658.71 903.93,659.21 904.29,659.70 904.64,660.18 905.00,660.65 905.36,661.11 905.71,661.57 906.07,662.02 906.43,662.46 906.79,662.89 907.14,663.32 907.50,663.74 907.86,664.15 908.21,664.55 908.57,664.95 908.93,665.34 909.29,665.72 909.64,666.10 910.00,666.47 910.36,666.83 910.71,667.19 911.07,667.54 911.43,667.88 911.79,668.22 912.14,668.55 912.50,668.88 912.86,669.20 913.21,669.52 913.57,669.83 913.93,670.13 914.29,670.43 914.64,670.72 915.00,671.01 915.36,671.29 915.71,671.57 916.07,671.85 916.43,672.12 916.79,672.38 917.14,672.64 917.50,672.90 917.86,673.15 918.21,673.39 918.57,673.64 918.93,673.87 919.29,674.11 919.64,674.34 920.00,674.57 920.36,674.79 920.71,675.01 921.07,675.22 921.43,675.44 921.79,675.65 922.14,675.85 922.50,676.05 922.86,676.25 923.21,676.45 923.57,676.64 923.93,676.83 924.29,677.02 924.64,677.20 925.00,677.38 925.36,677.56 925.71,677.74 926.07,677.91 926.43,678.08 926.79,678.25 927.14,678.41 927.50,678.57 927.86,678.73 928.21,678.89 928.57,679.05 928.93,679.20 929.29,679.35 929.64,679.50 930.00,679.65 930.36,679.79 930.71,679.94 931.07,680.08 931.43,680.22 931.79,680.35 932.14,680.49 932.50,680.62 932.86,680.76 933.21,680.89 933.57,681.01 933.93,681.14 934.29,681.27 934.64,681.39 935.00,681.51 935.36,681.63 935.71,681.75 936.07,681.87 936.43,681.98 936.79,682.10 937.14,682.21 937.50,682.32 937.86,682.43 938.21,682.54 938.57,682.65 938.93,682.75 939.29,682.86 939.64,682.96 940.00,683.06 940.36,683.17 940.71,683.27 941.07,683.36 941.43,683.46 941.79,683.56 942.14,683.66 942.50,683.75 942.86,683.84 943.21,683.94 943.57,684.03 943.93,684.12 944.29,684.21 944.64,684.30 945.00,684.38 945.36,684.47 945.71,684.56 946.07,684.64 946.43,684.72 946.79,684.81 947.14,684.89 947.50,684.97 947.86,685.05 948.21,685.13 948.57,685.21 948.93,685.29 949.29,685.36 949.64,685.44 950.00,685.52 950.36,685.59 950.71,685.67 951.07,685.74 951.43,685.81 951.79,685.88 952.14,685.96 952.50,686.03 952.86,686.10 953.21,686.17 953.57,686.23 953.93,686.30 954.29,686.37 954.64,686.44 955.00,686.50 955.36,686.57 955.71,686.63 956.07,686.70 956.43,686.76 956.79,686.82 957.14,686.89 957.50,686.95 957.86,687.01 958.21,687.07 958.57,687.13 958.93,687.19 959.29,687.25 959.64,687.31 960.00,687.36 960.36,687.42 960.71,687.48 961.07,687.54 961.43,687.59" stroke-width="4.15"/>
<path d="M232.86,697.46 233.21,697.46 233.57,697.45 233.93,697.45 234.29,697.44 234.64,697.44 235.00,697.43 235.36,697.43 235.71,697.42 236.07,697.42 236.43,697.41 236.79,697.41 237.14,697.40 237.50,697.40 237.86,697.39 238.21,697.39 238.57,697.38 238.93,697.38 239.29,697.37 239.64,697.37 240.00,697.36 240.36,697.36 240.71,697.35 241.07,697.35 241.43,697.34 241.79,697.34 242.14,697.33 242.50,697.33 242.86,697.32 243.21,697.32 243.57,697.31 243.93,697.31 244.29,697.30 244.64,697.29 245.00,697.29 245.36,697.28 245.71,697.28 246.07,697.27 246.43,697.27 246.79,697.26 247.14,697.26 247.50,697.25 247.86,697.24 248.21,697.24 248.57,697.23 248.93,697.23 249.29,697.22 249.64,697.22 250.00,697.21 250.36,697.20 250.71,697.20 251.07,697.19 251.43,697.19 251.79,697.18 252.14,697.17 252.50,697.17 252.86,697.16 253.21,697.16 253.57,697.15 253.93,697.14 254.29,697.14 254.64,697.13 255.00,697.13 255.36,697.12 255.71,697.11 256.07,697.11 256.43,697.10 256.79,697.09 257.14,697.09 257.50,697.08 257.86,697.07 258.21,697.07 258.57,697.06 258.93,697.05 259.29,697.05 259.64,697.04 260.00,697.03 260.36,697.03 260.71,697.02 261.07,697.01 261.43,697.01 261.79,697.00 262.14,696.99 262.50,696.98 262.86,696.98 263.21,696.97 263.57,696.96 263.93,696.96 264.29,696.95 264.64,696.94 265.00,696.93 265.36,696.93 265.71,696.92 266.07,696.91 266.43,696.90 266.79,696.90 267.14,696.89 267.50,696.88 267.86,696.87 268.21,696.87 268.57,696.86 268.93,696.85 269.29,696.84 269.64,696.83 270.00,696.83 270.36,696.82 270.71,696.81 271.07,696.80 271.43,696.79 271.79,696.79 272.14,696.78 272.50,696.77 272.86,696.76 273.21,696.75 273.57,696.74 273.93,696.74 274.29,696.73 274.64,696.72 275.00,696.71 275.36,696.70 275.71,696.69 276.07,696.68 276.43,696.67 276.79,696.66 277.14,696.66 277.50,696.65 277.86,696.64 278.21,696.63 278.57,696.62 278.93,696.61 279.29,696.60 279.64,696.59 280.00,696.58 280.36,696.57 280.71,696.56 281.07,696.55 281.43,696.54 281.79,696.53 282.14,696.52 282.50,696.51 282.86,696.50 283.21,696.49 283.57,696.48 283.93,696.47 284.29,696.46 284.64,696.45 285.00,696.44 285.36,696.43 285.71,696.42 286.07,696.41 286.43,696.40 286.79,696.39 287.14,696.38 287.50,696.37 287.86,696.35 288.21,696.34 288.57,696.33 288.93,696.32 289.29,696.31 289.64,696.30 290.00,696.29 290.36,696.27 290.71,696.26 291.07,696.25 291.43,696.24 291.79,696.23 292.14,696.22 292.50,696.20 292.86,696.19 293.21,696.18 293.57,696.17 293.93,696.15 294.29,696.14 294.64,696.13 295.00,696.12 295.36,696.10 295.71,696.09 296.07,696.08 296.43,696.06 296.79,696.05 297.14,696.04 297.50,696.02 297.86,696.01 298.21,696.00 298.57,695.98 298.93,695.97 299.29,695.95 299.64,695.94 300.00,695.93 300.36,695.91 300.71,695.90 301.07,695.88 301.43,695.87 301.79,695.85 302.14,695.84 302.50,695.82 302.86,695.81 303.21,695.79 303.57,695.78 303.93,695.76 304.29,695.75 304.64,695.73 305.00,695.72 305.36,695.70 305.71,695.68 306.07,695.67 306.43,695.65 306.79,695.63 307.14,695.62 307.50,695.60 307.86,695.58 308.21,695.57 308.57,695.55 308.93,695.53 309.29,695.51 309.64,695.50 310.00,695.48 310.36,695.46 310.71,695.44 311.07,695.42 311.43,695.41 311.79,695.39 312.14,695.37 312.50,695.35 312.86,695.33 313.21,695.31 313.57,695.29 313.93,695.27 314.29,695.25 314.64,695.23 315.00,695.21 315.36,695.19 315.71,695.17 316.07,695.15 316.43,695.13 316.79,695.11 317.14,695.09 317.50,695.06 317.86,695.04 318.21,695.02 318.57,695.00 318.93,694.98 319.29,694.95 319.64,694.93 320.00,694.91 320.36,694.88 320.71,694.86 321.07,694.84 321.43,694.81 321.79,694.79 322.14,694.76 322.50,694.74 322.86,694.71 323.21,694.69 323.57,694.66 323.93,694.64 324.29,694.61 324.64,694.59 325.00,694.56 325.36,694.53 325.71,694.51 326.07,694.48 326.43,694.45 326.79,694.42 327.14,694.40 327.50,694.37 327.86,694.34 328.21,694.31 328.57,694.28 328.93,694.25 329.29,694.22 329.64,694.19 330.00,694.16 330.36,694.13 330.71,694.10 331.07,694.07 331.43,694.03 331.79,694.00 332.14,693.97 332.50,693.94 332.86,693.90 333.21,693.87 333.57,693.83 333.93,693.80 334.29,693.77 334.64,693.73 335.00,693.69 335.36,693.66 335.71,693.62 336.07,693.58 336.43,693.55 336.79,693.51 337.14,693.47 337.50,693.43 337.86,693.39 338.21,693.35 338.57,693.31 338.93,693.27 339.29,693.23 339.64,693.19 340.00,693.15 340.36,693.11 340.71,693.06 341.07,693.02 341.43,692.97 341.79,692.93 342.14,692.88 342.50,692.84 342.86,692.79 343.21,692.74 343.57,692.70 343.93,692.65 344.29,692.60 344.64,692.55 345.00,692.50 345.36,692.45 345.71,692.40 346.07,692.35 346.43,692.29 346.79,692.24 347.14,692.18 347.50,692.13 347.86,692.07 348.21,692.02 348.57,691.96 348.93,691.90 349.29,691.84 349.64,691.78 350.00,691.72 350.36,691.66 350.71,691.60 351.07,691.53 351.43,691.47 351.79,691.41 352.14,691.34 352.50,691.27 352.86,691.20 353.21,691.14 353.57,691.07 353.93,690.99 354.29,690.92 354.64,690.85 355.00,690.77 355.36,690.70 355.71,690.62 356.07,690.55 356.43,690.47 356.79,690.39 357.14,690.30 357.50,690.22 357.86,690.14 358.21,690.05 358.57,689.97 358.93,689.88 359.29,689.79 359.64,689.70 360.00,689.60 360.36,689.51 360.71,689.41 361.07,689.32 361.43,689.22 361.79,689.12 362.14,689.01 362.50,688.91 362.86,688.80 363.21,688.69 363.57,688.58 363.93,688.47 364.29,688.36 364.64,688.24 365.00,688.12 365.36,688.00 365.71,687.88 366.07,687.75 366.43,687.63 366.79,687.50 367.14,687.36 367.50,687.23 367.86,687.09 368.21,686.95 368.57,686.81 368.93,686.66 369.29,686.51 369.64,686.36 370.00,686.20 370.36,686.04 370.71,685.88 371.07,685.71 371.43,685.54 371.79,685.37 372.14,685.19 372.50,685.01 372.86,684.83 373.21,684.64 373.57,684.44 373.93,684.24 374.29,684.04 374.64,683.83 375.00,683.62 375.36,683.40 375.71,683.18 376.07,682.95 376.43,682.72 376.79,682.48 377.14,682.23 377.50,681.98 377.86,681.72 378.21,681.45 378.57,681.18 378.93,680.90 379.29,680.62 379.64,680.32 380.00,680.02 380.36,679.71 380.71,679.40 381.07,679.07 381.43,678.74 381.79,678.40 382.14,678.04 382.50,677.68 382.86,677.31 383.21,676.93 383.57,676.54 383.93,676.14 384.29,675.73 384.64,675.30 385.00,674.87 385.36,674.42 385.71,673.96 386.07,673.49 386.43,673.01 386.79,672.51 387.14,672.00 387.50,671.47 387.86,670.94 388.21,670.38 388.57,669.82 388.93,669.23 389.29,668.63 389.64,668.02 390.00,667.39 390.36,666.74 390.71,666.08 391.07,665.40 391.43,664.70 391.79,663.98 392.14,663.25 392.50,662.49 392.86,661.72 393.21,660.93 393.57,660.11 393.93,659.28 394.29,658.43 394.64,657.56 395.00,656.66 395.36,655.75 395.71,654.81 396.07,653.85 396.43,652.87 396.79,651.87 397.14,650.84 397.50,649.80 397.86,648.73 398.21,647.64 398.57,646.52 398.93,645.38 399.29,644.23 399.64,643.04 400.00,641.84 400.36,640.61 400.71,639.37 401.07,638.10 401.43,636.81 401.79,635.50 402.14,634.17 402.50,632.83 402.86,631.46 403.21,630.08 403.57,628.68 403.93,627.27 404.29,625.84 404.64,624.40 405.00,622.96 405.36,621.50 405.71,620.04 406.07,618.57 406.43,617.10 406.79,615.63 407.14,614.17 407.50,612.71 407.86,611.26 408.21,609.83 408.57,608.41 408.93,607.00 409.29,605.63 409.64,604.27 410.00,602.95 410.36,601.67 410.71,600.42 411.07,599.21 411.43,598.06 411.79,596.95 412.14,595.90 412.50,594.91 412.86,593.98 413.21,593.13 413.57,592.34 413.93,591.62 414.29,590.99 414.64,590.43 415.00,589.96 415.36,589.58 415.71,589.28 416.07,589.07 416.43,588.94 416.79,588.91 417.14,588.97 417.50,589.12 417.86,589.36 418.21,589.69 418.57,590.10 418.93,590.59 419.29,591.17 419.64,591.83 420.00,592.56 420.36,593.37 420.71,594.24 421.07,595.18 421.43,596.18 421.79,597.24 422.14,598.35 422.50,599.51 422.86,600.72 423.21,601.97 423.57,603.25 423.93,604.56 424.29,605.91 424.64,607.27 425.00,608.66 425.36,610.07 425.71,611.49 426.07,612.92 426.43,614.36 426.79,615.80 427.14,617.24 427.50,618.68 427.86,620.12 428.21,621.56 428.57,622.98 428.93,624.40 429.29,625.81 429.64,627.20 430.00,628.58 430.36,629.94 430.71,631.29 431.07,632.62 431.43,633.93 431.79,635.22 432.14,636.49 432.50,637.75 432.86,638.98 433.21,640.19 433.57,641.37 433.93,642.54 434.29,643.68 434.64,644.80 435.00,645.90 435.36,646.97 435.71,648.03 436.07,649.06 436.43,650.06 436.79,651.05 437.14,652.01 437.50,652.95 437.86,653.87 438.21,654.77 438.57,655.65 438.93,656.50 439.29,657.34 439.64,658.15 440.00,658.94 440.36,659.72 440.71,660.47 441.07,661.21 441.43,661.92 441.79,662.62 442.14,663.30 442.50,663.96 442.86,664.60 443.21,665.23 443.57,665.84 443.93,666.43 444.29,667.01 444.64,667.57 445.00,668.11 445.36,668.64 445.71,669.16 446.07,669.66 446.43,670.15 446.79,670.62 447.14,671.08 447.50,671.53 447.86,671.96 448.21,672.39 448.57,672.80 448.93,673.19 449.29,673.58 449.64,673.96 450.00,674.32 450.36,674.68 450.71,675.02 451.07,675.36 451.43,675.68 451.79,676.00 452.14,676.30 452.50,676.60 452.86,676.89 453.21,677.17 453.57,677.44 453.93,677.71 454.29,677.96 454.64,678.21 455.00,678.45 455.36,678.69 455.71,678.92 456.07,679.14 456.43,679.36 456.79,679.56 457.14,679.77 457.50,679.96 457.86,680.16 458.21,680.34 458.57,680.52 458.93,680.70 459.29,680.87 459.64,681.03 460.00,681.19 460.36,681.35 460.71,681.50 461.07,681.65 461.43,681.79 461.79,681.93 462.14,682.07 462.50,682.20 462.86,682.32 463.21,682.45 463.57,682.57 463.93,682.68 464.29,682.80 464.64,682.91 465.00,683.01 465.36,683.12 465.71,683.22 466.07,683.31 466.43,683.41 466.79,683.50 467.14,683.59 467.50,683.67 467.86,683.76 468.21,683.84 468.57,683.91 468.93,683.99 469.29,684.06 469.64,684.13 470.00,684.20 470.36,684.27 470.71,684.33 471.07,684.39 471.43,684.45 471.79,684.51 472.14,684.57 472.50,684.62 472.86,684.67 473.21,684.72 473.57,684.77 473.93,684.81 474.29,684.86 474.64,684.90 475.00,684.94 475.36,684.97 475.71,685.01 476.07,685.05 476.43,685.08 476.79,685.11 477.14,685.14 477.50,685.17 477.86,685.19 478.21,685.22 478.57,685.24 478.93,685.26 479.29,685.28 479.64,685.30 480.00,685.32 480.36,685.33 480.71,685.35 481.07,685.36 481.43,685.37 481.79,685.38 482.14,685.39 482.50,685.39 482.86,685.40 483.21,685.40 483.57,685.40 483.93,685.40 484.29,685.40 484.64,685.40 485.00,685.40 485.36,685.39 485.71,685.39 486.07,685.38 486.43,685.37 486.79,685.36 487.14,685.35 487.50,685.34 487.86,685.32 488.21,685.31 488.57,685.29 488.93,685.27 489.29,685.25 489.64,685.23 490.00,685.21 490.36,685.18 490.71,685.16 491.07,685.13 491.43,685.10 491.79,685.08 492.14,685.05 492.50,685.01 492.86,684.98 493.21,684.95 493.57,684.91 493.93,684.87 494.29,684.83 494.64,684.79 495.00,684.75 495.36,684.71 495.71,684.66 496.07,684.62 496.43,684.57 496.79,684.52 497.14,684.47 497.50,684.42 497.86,684.37 498.21,684.31 498.57,684.26 498.93,684.20 499.29,684.14 499.64,684.08 500.00,684.02" stroke-width="3.6" stroke-linecap="round" stroke-dasharray="0.3 6.75" stroke-dashoffset="2.40"/>
<path d="M500.00,684.02 500.36,683.95 500.71,683.89 501.07,683.82 501.43,683.75 501.79,683.68 502.14,683.61 502.50,683.53 502.86,683.46 503.21,683.38 503.57,683.30 503.93,683.22 504.29,683.14 504.64,683.06 505.00,682.97 505.36,682.88 505.71,682.79 506.07,682.70 506.43,682.61 506.79,682.51 507.14,682.41 507.50,682.31 507.86,682.21 508.21,682.11 508.57,682.00 508.93,681.90 509.29,681.79 509.64,681.67 510.00,681.56 510.36,681.44 510.71,681.32 511.07,681.20 511.43,681.08 511.79,680.95 512.14,680.82 512.50,680.69 512.86,680.56 513.21,680.42 513.57,680.28 513.93,680.14 514.29,680.00 514.64,679.85 515.00,679.70 515.36,679.55 515.71,679.39 516.07,679.23 516.43,679.07 516.79,678.91 517.14,678.74 517.50,678.57 517.86,678.39 518.21,678.21 518.57,678.03 518.93,677.84 519.29,677.66 519.64,677.46 520.00,677.27 520.36,677.06 520.71,676.86 521.07,676.65 521.43,676.44 521.79,676.22 522.14,676.00 522.50,675.77 522.86,675.54 523.21,675.31 523.57,675.06 523.93,674.82 524.29,674.57 524.64,674.31 525.00,674.05 525.36,673.78 525.71,673.51 526.07,673.23 526.43,672.95 526.79,672.66 527.14,672.36 527.50,672.06 527.86,671.75 528.21,671.43 528.57,671.11 528.93,670.78 529.29,670.44 529.64,670.09 530.00,669.74 530.36,669.38 530.71,669.01 531.07,668.63 531.43,668.24 531.79,667.84 532.14,667.44 532.50,667.02 532.86,666.59 533.21,666.16 533.57,665.71 533.93,665.25 534.29,664.79 534.64,664.31 535.00,663.81 535.36,663.31 535.71,662.79 536.07,662.26 536.43,661.72 536.79,661.17 537.14,660.60 537.50,660.01 537.86,659.41 538.21,658.80 538.57,658.17 538.93,657.52 539.29,656.86 539.64,656.18 540.00,655.48 540.36,654.76 540.71,654.03 541.07,653.27 541.43,652.50 541.79,651.70 542.14,650.89 542.50,650.05 542.86,649.19 543.21,648.31 543.57,647.41 543.93,646.48 544.29,645.53 544.64,644.55 545.00,643.55 545.36,642.52 545.71,641.47 546.07,640.38 546.43,639.27 546.79,638.13 547.14,636.96 547.50,635.76 547.86,634.53 548.21,633.27 548.57,631.98 548.93,630.65 549.29,629.29 549.64,627.89 550.00,626.46 550.36,624.99 550.71,623.49 551.07,621.95 551.43,620.37 551.79,618.76 552.14,617.10 552.50,615.41 552.86,613.67 553.21,611.90 553.57,610.08 553.93,608.22 554.29,606.32 554.64,604.37 555.00,602.39 555.36,600.36 555.71,598.28 556.07,596.16 556.43,594.00 556.79,591.80 557.14,589.55 557.50,587.25 557.86,584.91 558.21,582.53 558.57,580.11 558.93,577.64 559.29,575.13 559.64,572.59 560.00,570.00 560.36,567.37 560.71,564.71 561.07,562.01 561.43,559.28 561.79,556.52 562.14,553.72 562.50,550.91 562.86,548.07 563.21,545.21 563.57,542.33 563.93,539.44 564.29,536.54 564.64,533.64 565.00,530.74 565.36,527.85 565.71,524.97 566.07,522.10 566.43,519.26 566.79,516.46 567.14,513.69 567.50,510.96 567.86,508.29 568.21,505.67 568.57,503.13 568.93,500.66 569.29,498.27 569.64,495.97 570.00,493.78 570.36,491.69 570.71,489.72 571.07,487.88 571.43,486.16 571.79,484.59 572.14,483.16 572.50,481.88 572.86,480.76 573.21,479.80 573.57,479.01 573.93,478.38 574.29,477.94 574.64,477.66 575.00,477.57 575.36,477.65 575.71,477.91 576.07,478.34 576.43,478.95 576.79,479.72 577.14,480.67 577.50,481.77 577.86,483.04 578.21,484.45 578.57,486.02 578.93,487.72 579.29,489.55 579.64,491.51 580.00,493.58 580.36,495.76 580.71,498.05 581.07,500.42 581.43,502.88 581.79,505.42 582.14,508.02 582.50,510.69 582.86,513.40 583.21,516.17 583.57,518.97 583.93,521.80 584.29,524.65 584.64,527.53 585.00,530.41 585.36,533.30 585.71,536.20 586.07,539.09 586.43,541.97 586.79,544.84 587.14,547.70 587.50,550.53 587.86,553.34 588.21,556.13 588.57,558.89 588.93,561.62 589.29,564.31 589.64,566.97 590.00,569.59 590.36,572.17 590.71,574.72 591.07,577.22 591.43,579.68 591.79,582.10 592.14,584.48 592.50,586.81 592.86,589.10 593.21,591.35 593.57,593.55 593.93,595.71 594.29,597.82 594.64,599.89 595.00,601.91 595.36,603.90 595.71,605.84 596.07,607.73 596.43,609.59 596.79,611.40 597.14,613.17 597.50,614.90 597.86,616.59 598.21,618.24 598.57,619.86 598.93,621.43 599.29,622.96 599.64,624.46 600.00,625.92 600.36,627.35 600.71,628.74 601.07,630.10 601.43,631.42 601.79,632.71 602.14,633.97 602.50,635.20 602.86,636.39 603.21,637.56 603.57,638.69 603.93,639.80 604.29,640.88 604.64,641.93 605.00,642.95 605.36,643.95 605.71,644.92 606.07,645.87 606.43,646.79 606.79,647.69 607.14,648.56" stroke-width="3.6" stroke-linecap="round" stroke-dasharray="0.3 6.75" stroke-dashoffset="2.73"/>
<path d="M607.14,648.56 607.50,649.42 607.86,650.25 608.21,651.06 608.57,651.85 608.93,652.62 609.29,653.36 609.64,654.09 610.00,654.81 610.36,655.50 610.71,656.17 611.07,656.83 611.43,657.48 611.79,658.10 612.14,658.71 612.50,659.31 612.86,659.88 613.21,660.45 613.57,661.00 613.93,661.54 614.29,662.06 614.64,662.57 615.00,663.07 615.36,663.56 615.71,664.04 616.07,664.50 616.43,664.95 616.79,665.39 617.14,665.82 617.50,666.25 617.86,666.66 618.21,667.06 618.57,667.45 618.93,667.83 619.29,668.21 619.64,668.57 620.00,668.93 620.36,669.28 620.71,669.62 621.07,669.96 621.43,670.28 621.79,670.60 622.14,670.92 622.50,671.22 622.86,671.52 623.21,671.81 623.57,672.10 623.93,672.38 624.29,672.65 624.64,672.92 625.00,673.18 625.36,673.44 625.71,673.69 626.07,673.94 626.43,674.18 626.79,674.42 627.14,674.65 627.50,674.88 627.86,675.10 628.21,675.32 628.57,675.53 628.93,675.74 629.29,675.95 629.64,676.15 630.00,676.35 630.36,676.54 630.71,676.73 631.07,676.92 631.43,677.10 631.79,677.28 632.14,677.45 632.50,677.63 632.86,677.80 633.21,677.96 633.57,678.12 633.93,678.28 634.29,678.44 634.64,678.59 635.00,678.74 635.36,678.89 635.71,679.04 636.07,679.18 636.43,679.32 636.79,679.46 637.14,679.59 637.50,679.72 637.86,679.85 638.21,679.98 638.57,680.11 638.93,680.23 639.29,680.35 639.64,680.47 640.00,680.58 640.36,680.70 640.71,680.81 641.07,680.92 641.43,681.03 641.79,681.13 642.14,681.23 642.50,681.34 642.86,681.44 643.21,681.53 643.57,681.63 643.93,681.72 644.29,681.82 644.64,681.91 645.00,682.00 645.36,682.08 645.71,682.17 646.07,682.25 646.43,682.34 646.79,682.42 647.14,682.50 647.50,682.57 647.86,682.65 648.21,682.73 648.57,682.80 648.93,682.87 649.29,682.94 649.64,683.01 650.00,683.08 650.36,683.14 650.71,683.21 651.07,683.27 651.43,683.34 651.79,683.40 652.14,683.46 652.50,683.52 652.86,683.57 653.21,683.63 653.57,683.68 653.93,683.74 654.29,683.79 654.64,683.84 655.00,683.89 655.36,683.94 655.71,683.99 656.07,684.04 656.43,684.08 656.79,684.13 657.14,684.17 657.50,684.22 657.86,684.26 658.21,684.30 658.57,684.34 658.93,684.38 659.29,684.41 659.64,684.45 660.00,684.49 660.36,684.52 660.71,684.56 661.07,684.59 661.43,684.62 661.79,684.65 662.14,684.68 662.50,684.71 662.86,684.74 663.21,684.77 663.57,684.79 663.93,684.82 664.29,684.84 664.64,684.87 665.00,684.89 665.36,684.91 665.71,684.93 666.07,684.96 666.43,684.98 666.79,684.99 667.14,685.01 667.50,685.03 667.86,685.05 668.21,685.06 668.57,685.08 668.93,685.09 669.29,685.10 669.64,685.12 670.00,685.13 670.36,685.14 670.71,685.15 671.07,685.16 671.43,685.17 671.79,685.18 672.14,685.18 672.50,685.19 672.86,685.20 673.21,685.20 673.57,685.21 673.93,685.21 674.29,685.21 674.64,685.21 675.00,685.22 675.36,685.22 675.71,685.22 676.07,685.22 676.43,685.21 676.79,685.21 677.14,685.21 677.50,685.21 677.86,685.20 678.21,685.20 678.57,685.19 678.93,685.18 679.29,685.18 679.64,685.17 680.00,685.16 680.36,685.15 680.71,685.14 681.07,685.13 681.43,685.12 681.79,685.10 682.14,685.09 682.50,685.08 682.86,685.06 683.21,685.05 683.57,685.03 683.93,685.01 684.29,685.00 684.64,684.98 685.00,684.96 685.36,684.94 685.71,684.92 686.07,684.90 686.43,684.88 686.79,684.85 687.14,684.83 687.50,684.81 687.86,684.78 688.21,684.76 688.57,684.73 688.93,684.70 689.29,684.67 689.64,684.65 690.00,684.62 690.36,684.59 690.71,684.56 691.07,684.52 691.43,684.49 691.79,684.46 692.14,684.42 692.50,684.39 692.86,684.35 693.21,684.32 693.57,684.28 693.93,684.24 694.29,684.20 694.64,684.16 695.00,684.12 695.36,684.08 695.71,684.04 696.07,683.99 696.43,683.95 696.79,683.90 697.14,683.86 697.50,683.81 697.86,683.76 698.21,683.71 698.57,683.66 698.93,683.61 699.29,683.56 699.64,683.51 700.00,683.46 700.36,683.40 700.71,683.35 701.07,683.29 701.43,683.23 701.79,683.18 702.14,683.12 702.50,683.06 702.86,683.00 703.21,682.93 703.57,682.87 703.93,682.81 704.29,682.74 704.64,682.67 705.00,682.61 705.36,682.54 705.71,682.47 706.07,682.40 706.43,682.33 706.79,682.25 707.14,682.18 707.50,682.11 707.86,682.03 708.21,681.95 708.57,681.87 708.93,681.80 709.29,681.71 709.64,681.63 710.00,681.55 710.36,681.47 710.71,681.38 711.07,681.29 711.43,681.20 711.79,681.12 712.14,681.03 712.50,680.93 712.86,680.84 713.21,680.75 713.57,680.65 713.93,680.55 714.29,680.45 714.64,680.36 715.00,680.25 715.36,680.15 715.71,680.05 716.07,679.94 716.43,679.84 716.79,679.73 717.14,679.62 717.50,679.51 717.86,679.39 718.21,679.28 718.57,679.16 718.93,679.05 719.29,678.93 719.64,678.81 720.00,678.69 720.36,678.56 720.71,678.44 721.07,678.31 721.43,678.18 721.79,678.05 722.14,677.92 722.50,677.79 722.86,677.65 723.21,677.52 723.57,677.38 723.93,677.24 724.29,677.10 724.64,676.95 725.00,676.81 725.36,676.66 725.71,676.51 726.07,676.36 726.43,676.21 726.79,676.05 727.14,675.90 727.50,675.74 727.86,675.58 728.21,675.41 728.57,675.25 728.93,675.08 729.29,674.91 729.64,674.74 730.00,674.57 730.36,674.40 730.71,674.22 731.07,674.04 731.43,673.86 731.79,673.67 732.14,673.49 732.50,673.30 732.86,673.11 733.21,672.92 733.57,672.72 733.93,672.52 734.29,672.32 734.64,672.12 735.00,671.91 735.36,671.71 735.71,671.50 736.07,671.28 736.43,671.07 736.79,670.85 737.14,670.63 737.50,670.41 737.86,670.18 738.21,669.95 738.57,669.72 738.93,669.49 739.29,669.25 739.64,669.01 740.00,668.77 740.36,668.52 740.71,668.27 741.07,668.02 741.43,667.77 741.79,667.51 742.14,667.25 742.50,666.98 742.86,666.72 743.21,666.44 743.57,666.17 743.93,665.89 744.29,665.61 744.64,665.32 745.00,665.04 745.36,664.74 745.71,664.45 746.07,664.15 746.43,663.85 746.79,663.54 747.14,663.23 747.50,662.91 747.86,662.59 748.21,662.27 748.57,661.94 748.93,661.61 749.29,661.27 749.64,660.93 750.00,660.59 750.36,660.24 750.71,659.88 751.07,659.52 751.43,659.16 751.79,658.79 752.14,658.42 752.50,658.04 752.86,657.65 753.21,657.26 753.57,656.87 753.93,656.47 754.29,656.06 754.64,655.65 755.00,655.23 755.36,654.81 755.71,654.38 756.07,653.94 756.43,653.50 756.79,653.05 757.14,652.60 757.50,652.14 757.86,651.67 758.21,651.19 758.57,650.71 758.93,650.22 759.29,649.72 759.64,649.21 760.00,648.70 760.36,648.18 760.71,647.65 761.07,647.11 761.43,646.56 761.79,646.01 762.14,645.44 762.50,644.87 762.86,644.28 763.21,643.69 763.57,643.09 763.93,642.47 764.29,641.85 764.64,641.21 765.00,640.57 765.36,639.91 765.71,639.24 766.07,638.56 766.43,637.87 766.79,637.16 767.14,636.44 767.50,635.71 767.86,634.96 768.21,634.20 768.57,633.42 768.93,632.63 769.29,631.83 769.64,631.01 770.00,630.17 770.36,629.31 770.71,628.44 771.07,627.55 771.43,626.64 771.79,625.72 772.14,624.77 772.50,623.81 772.86,622.82 773.21,621.81 773.57,620.78 773.93,619.73 774.29,618.65 774.64,617.56 775.00,616.43 775.36,615.28 775.71,614.11 776.07,612.91 776.43,611.68 776.79,610.42 777.14,609.13 777.50,607.82 777.86,606.47 778.21,605.09 778.57,603.68 778.93,602.23 779.29,600.75 779.64,599.23 780.00,597.68 780.36,596.08 780.71,594.45 781.07,592.78 781.43,591.06 781.79,589.30 782.14,587.50 782.50,585.66 782.86,583.76 783.21,581.82 783.57,579.83 783.93,577.79 784.29,575.70 784.64,573.55 785.00,571.35 785.36,569.09 785.71,566.77" stroke-width="3.6" stroke-linecap="round" stroke-dasharray="0.3 6.75" stroke-dashoffset="2.42"/>
<path d="M785.71,566.77 786.07,564.39 786.43,561.96 786.79,559.46 787.14,556.89 787.50,554.26 787.86,551.56 788.21,548.79 788.57,545.95 788.93,543.04 789.29,540.05 789.64,536.99 790.00,533.85 790.36,530.63 790.71,527.32 791.07,523.93 791.43,520.46 791.79,516.90 792.14,513.25 792.50,509.51 792.86,505.68 793.21,501.75 793.57,497.72 793.93,493.60 794.29,489.38 794.64,485.06 795.00,480.63 795.36,476.10 795.71,471.47 796.07,466.73 796.43,461.88 796.79,456.92 797.14,451.85 797.50,446.67 797.86,441.38 798.21,435.98 798.57,430.47 798.93,424.84 799.29,419.11 799.64,413.26 800.00,407.30 800.36,401.24 800.71,395.07 801.07,388.79 801.43,382.41 801.79,375.93 802.14,369.36 802.50,362.69 802.86,355.94 803.21,349.10 803.57,342.19 803.93,335.21 804.29,328.17 804.64,321.08 805.00,313.94 805.36,306.77 805.71,299.57 806.07,292.36 806.43,285.15 806.79,277.96 807.14,270.79 807.50,263.66 807.86,256.60 808.21,249.61 808.57,242.71 808.93,235.93 809.29,229.28 809.64,222.78 810.00,216.46 810.36,210.32 810.71,204.40 811.07,198.71 811.43,193.28 811.79,188.13 812.14,183.27 812.50,178.73 812.86,174.53 813.21,170.68 813.57,167.20 813.93,164.11 814.29,161.42 814.64,159.14 815.00,157.29 815.36,155.87 815.71,154.89 816.07,154.36 816.43,154.28 816.79,154.64 817.14,155.45 817.50,156.70 817.86,158.39 818.21,160.50 818.57,163.03 818.93,165.97 819.29,169.30 819.64,173.00 820.00,177.07 820.36,181.47 820.71,186.20 821.07,191.23 821.43,196.55 821.79,202.13 822.14,207.94 822.50,213.98 822.86,220.22 823.21,226.63 823.57,233.20 823.93,239.91 824.29,246.74 824.64,253.66 825.00,260.67 825.36,267.74 825.71,274.86 826.07,282.01 826.43,289.17 826.79,296.35 827.14,303.51 827.50,310.65 827.86,317.76 828.21,324.82 828.57,331.83 828.93,338.79 829.29,345.67 829.64,352.48 830.00,359.21 830.36,365.85 830.71,372.40 831.07,378.86 831.43,385.21 831.79,391.46 832.14,397.61 832.50,403.65 832.86,409.58 833.21,415.39 833.57,421.10 833.93,426.69 834.29,432.17 834.64,437.53 835.00,442.78 835.36,447.92 835.71,452.94 836.07,457.85 836.43,462.65 836.79,467.34 837.14,471.92 837.50,476.39 837.86,480.75 838.21,485.00 838.57,489.16 838.93,493.20 839.29,497.15 839.64,501.00 840.00,504.74 840.36,508.39 840.71,511.95 841.07,515.41 841.43,518.78 841.79,522.06 842.14,525.25 842.50,528.35 842.86,531.37 843.21,534.30 843.57,537.15 843.93,539.92 844.29,542.62 844.64,545.23 845.00,547.77 845.36,550.24 845.71,552.63 846.07,554.95 846.43,557.20" stroke-width="3.6" stroke-linecap="round" stroke-dasharray="0.3 6.75" stroke-dashoffset="3.28"/>
<path d="M846.43,557.20 846.79,559.39 847.14,561.50 847.50,563.56 847.86,565.54 848.21,567.47 848.57,569.33 848.93,571.13 849.29,572.87 849.64,574.56 850.00,576.18 850.36,577.75 850.71,579.27 851.07,580.73 851.43,582.14 851.79,583.50 852.14,584.81 852.50,586.06 852.86,587.27 853.21,588.43 853.57,589.54 853.93,590.60 854.29,591.62 854.64,592.60 855.00,593.52 855.36,594.41 855.71,595.25 856.07,596.05 856.43,596.80 856.79,597.52 857.14,598.19 857.50,598.82 857.86,599.42 858.21,599.97 858.57,600.48 858.93,600.96 859.29,601.39 859.64,601.79 860.00,602.15 860.36,602.48 860.71,602.76 861.07,603.01 861.43,603.23 861.79,603.41 862.14,603.55 862.50,603.66 862.86,603.73 863.21,603.77 863.57,603.78 863.93,603.75 864.29,603.69 864.64,603.60 865.00,603.47 865.36,603.31 865.71,603.12 866.07,602.90 866.43,602.66 866.79,602.38 867.14,602.07 867.50,601.73 867.86,601.37 868.21,600.98 868.57,600.57 868.93,600.13 869.29,599.66 869.64,599.18 870.00,598.67 870.36,598.15 870.71,597.60 871.07,597.04 871.43,596.47 871.79,595.88 872.14,595.28 872.50,594.68 872.86,594.07 873.21,593.45 873.57,592.83 873.93,592.21 874.29,591.60 874.64,590.99 875.00,590.40 875.36,589.81 875.71,589.24 876.07,588.70 876.43,588.17 876.79,587.67 877.14,587.20 877.50,586.77 877.86,586.36 878.21,586.00 878.57,585.69 878.93,585.41 879.29,585.19 879.64,585.02 880.00,584.90 880.36,584.84 880.71,584.84 881.07,584.90 881.43,585.02 881.79,585.21 882.14,585.45 882.50,585.77 882.86,586.14 883.21,586.59 883.57,587.09 883.93,587.66 884.29,588.29 884.64,588.98 885.00,589.73 885.36,590.54 885.71,591.40 886.07,592.31 886.43,593.27 886.79,594.28 887.14,595.33 887.50,596.42 887.86,597.55 888.21,598.71 888.57,599.90 888.93,601.12 889.29,602.36 889.64,603.62 890.00,604.90 890.36,606.20 890.71,607.51 891.07,608.83 891.43,610.15 891.79,611.48 892.14,612.81 892.50,614.14 892.86,615.47 893.21,616.80 893.57,618.12 893.93,619.43 894.29,620.74 894.64,622.03 895.00,623.31 895.36,624.58 895.71,625.84 896.07,627.08 896.43,628.30 896.79,629.51 897.14,630.71 897.50,631.88 897.86,633.04 898.21,634.18 898.57,635.30 898.93,636.41 899.29,637.49 899.64,638.56 900.00,639.60 900.36,640.63 900.71,641.64 901.07,642.62 901.43,643.59 901.79,644.54 902.14,645.47 902.50,646.39 902.86,647.28 903.21,648.15 903.57,649.01 903.93,649.85 904.29,650.67 904.64,651.47 905.00,652.26 905.36,653.02 905.71,653.77 906.07,654.51 906.43,655.23 906.79,655.93 907.14,656.61 907.50,657.29 907.86,657.94 908.21,658.58 908.57,659.21 908.93,659.82 909.29,660.42 909.64,661.00 910.00,661.57 910.36,662.13 910.71,662.67 911.07,663.20 911.43,663.72 911.79,664.23 912.14,664.72 912.50,665.21 912.86,665.68 913.21,666.14 913.57,666.59 913.93,667.04 914.29,667.47 914.64,667.89 915.00,668.30 915.36,668.70 915.71,669.10 916.07,669.48 916.43,669.86 916.79,670.23 917.14,670.58 917.50,670.94 917.86,671.28 918.21,671.62 918.57,671.95 918.93,672.27 919.29,672.58 919.64,672.89 920.00,673.19 920.36,673.49 920.71,673.78 921.07,674.06 921.43,674.34 921.79,674.61 922.14,674.88 922.50,675.14 922.86,675.40 923.21,675.65 923.57,675.90 923.93,676.14 924.29,676.38 924.64,676.61 925.00,676.84 925.36,677.06 925.71,677.28 926.07,677.50 926.43,677.71 926.79,677.92 927.14,678.12 927.50,678.32 927.86,678.52 928.21,678.71 928.57,678.91 928.93,679.09 929.29,679.28 929.64,679.46 930.00,679.64 930.36,679.81 930.71,679.99 931.07,680.16 931.43,680.32 931.79,680.49 932.14,680.65 932.50,680.81 932.86,680.97 933.21,681.12 933.57,681.27 933.93,681.42 934.29,681.57 934.64,681.72 935.00,681.86 935.36,682.00 935.71,682.14 936.07,682.28 936.43,682.42 936.79,682.55 937.14,682.68 937.50,682.81 937.86,682.94 938.21,683.07 938.57,683.19 938.93,683.32 939.29,683.44 939.64,683.56 940.00,683.68 940.36,683.79 940.71,683.91 941.07,684.02 941.43,684.14 941.79,684.25 942.14,684.36 942.50,684.47 942.86,684.57 943.21,684.68 943.57,684.78 943.93,684.89 944.29,684.99 944.64,685.09 945.00,685.19 945.36,685.29 945.71,685.39 946.07,685.48 946.43,685.58 946.79,685.67 947.14,685.76 947.50,685.86 947.86,685.95 948.21,686.04 948.57,686.12 948.93,686.21 949.29,686.30 949.64,686.38 950.00,686.47 950.36,686.55 950.71,686.64 951.07,686.72 951.43,686.80 951.79,686.88 952.14,686.96 952.50,687.04 952.86,687.12 953.21,687.19 953.57,687.27 953.93,687.34 954.29,687.42 954.64,687.49 955.00,687.56 955.36,687.64 955.71,687.71 956.07,687.78 956.43,687.85 956.79,687.92 957.14,687.99 957.50,688.06 957.86,688.12 958.21,688.19 958.57,688.26 958.93,688.32 959.29,688.38 959.64,688.45 960.00,688.51 960.36,688.58 960.71,688.64 961.07,688.70 961.43,688.76" stroke-width="3.6" stroke-linecap="round" stroke-dasharray="0.3 6.75" stroke-dashoffset="1.71"/>
<path d="M232.86,697.87 233.21,697.87 233.57,697.87 233.93,697.87 234.29,697.86 234.64,697.86 235.00,697.86 235.36,697.85 235.71,697.85 236.07,697.85 236.43,697.85 236.79,697.84 237.14,697.84 237.50,697.84 237.86,697.84 238.21,697.83 238.57,697.83 238.93,697.83 239.29,697.83 239.64,697.82 240.00,697.82 240.36,697.82 240.71,697.81 241.07,697.81 241.43,697.81 241.79,697.81 242.14,697.80 242.50,697.80 242.86,697.80 243.21,697.80 243.57,697.79 243.93,697.79 244.29,697.79 244.64,697.78 245.00,697.78 245.36,697.78 245.71,697.77 246.07,697.77 246.43,697.77 246.79,697.77 247.14,697.76 247.50,697.76 247.86,697.76 248.21,697.75 248.57,697.75 248.93,697.75 249.29,697.74 249.64,697.74 250.00,697.74 250.36,697.73 250.71,697.73 251.07,697.73 251.43,697.73 251.79,697.72 252.14,697.72 252.50,697.72 252.86,697.71 253.21,697.71 253.57,697.71 253.93,697.70 254.29,697.70 254.64,697.70 255.00,697.69 255.36,697.69 255.71,697.69 256.07,697.68 256.43,697.68 256.79,697.68 257.14,697.67 257.50,697.67 257.86,697.66 258.21,697.66 258.57,697.66 258.93,697.65 259.29,697.65 259.64,697.65 260.00,697.64 260.36,697.64 260.71,697.64 261.07,697.63 261.43,697.63 261.79,697.62 262.14,697.62 262.50,697.62 262.86,697.61 263.21,697.61 263.57,697.60 263.93,697.60 264.29,697.60 264.64,697.59 265.00,697.59 265.36,697.59 265.71,697.58 266.07,697.58 266.43,697.57 266.79,697.57 267.14,697.56 267.50,697.56 267.86,697.56 268.21,697.55 268.57,697.55 268.93,697.54 269.29,697.54 269.64,697.54 270.00,697.53 270.36,697.53 270.71,697.52 271.07,697.52 271.43,697.51 271.79,697.51 272.14,697.50 272.50,697.50 272.86,697.50 273.21,697.49 273.57,697.49 273.93,697.48 274.29,697.48 274.64,697.47 275.00,697.47 275.36,697.46 275.71,697.46 276.07,697.45 276.43,697.45 276.79,697.44 277.14,697.44 277.50,697.43 277.86,697.43 278.21,697.42 278.57,697.42 278.93,697.41 279.29,697.41 279.64,697.40 280.00,697.40 280.36,697.39 280.71,697.39 281.07,697.38 281.43,697.38 281.79,697.37 282.14,697.37 282.50,697.36 282.86,697.36 283.21,697.35 283.57,697.35 283.93,697.34 284.29,697.33 284.64,697.33 285.00,697.32 285.36,697.32 285.71,697.31 286.07,697.31 286.43,697.30 286.79,697.29 287.14,697.29 287.50,697.28 287.86,697.28 288.21,697.27 288.57,697.26 288.93,697.26 289.29,697.25 289.64,697.25 290.00,697.24 290.36,697.23 290.71,697.23 291.07,697.22 291.43,697.21 291.79,697.21 292.14,697.20 292.50,697.19 292.86,697.19 293.21,697.18 293.57,697.17 293.93,697.17 294.29,697.16 294.64,697.15 295.00,697.15 295.36,697.14 295.71,697.13 296.07,697.13 296.43,697.12 296.79,697.11 297.14,697.10 297.50,697.10 297.86,697.09 298.21,697.08 298.57,697.07 298.93,697.07 299.29,697.06 299.64,697.05 300.00,697.04 300.36,697.04 300.71,697.03 301.07,697.02 301.43,697.01 301.79,697.00 302.14,697.00 302.50,696.99 302.86,696.98 303.21,696.97 303.57,696.96 303.93,696.95 304.29,696.95 304.64,696.94 305.00,696.93 305.36,696.92 305.71,696.91 306.07,696.90 306.43,696.89 306.79,696.88 307.14,696.87 307.50,696.87 307.86,696.86 308.21,696.85 308.57,696.84 308.93,696.83 309.29,696.82 309.64,696.81 310.00,696.80 310.36,696.79 310.71,696.78 311.07,696.77 311.43,696.76 311.79,696.75 312.14,696.74 312.50,696.73 312.86,696.72 313.21,696.71 313.57,696.70 313.93,696.69 314.29,696.67 314.64,696.66 315.00,696.65 315.36,696.64 315.71,696.63 316.07,696.62 316.43,696.61 316.79,696.60 317.14,696.58 317.50,696.57 317.86,696.56 318.21,696.55 318.57,696.54 318.93,696.52 319.29,696.51 319.64,696.50 320.00,696.49 320.36,696.47 320.71,696.46 321.07,696.45 321.43,696.43 321.79,696.42 322.14,696.41 322.50,696.39 322.86,696.38 323.21,696.37 323.57,696.35 323.93,696.34 324.29,696.32 324.64,696.31 325.00,696.30 325.36,696.28 325.71,696.27 326.07,696.25 326.43,696.24 326.79,696.22 327.14,696.20 327.50,696.19 327.86,696.17 328.21,696.16 328.57,696.14 328.93,696.12 329.29,696.11 329.64,696.09 330.00,696.07 330.36,696.06 330.71,696.04 331.07,696.02 331.43,696.01 331.79,695.99 332.14,695.97 332.50,695.95 332.86,695.93 333.21,695.91 333.57,695.89 333.93,695.88 334.29,695.86 334.64,695.84 335.00,695.82 335.36,695.80 335.71,695.78 336.07,695.76 336.43,695.74 336.79,695.71 337.14,695.69 337.50,695.67 337.86,695.65 338.21,695.63 338.57,695.61 338.93,695.58 339.29,695.56 339.64,695.54 340.00,695.51 340.36,695.49 340.71,695.47 341.07,695.44 341.43,695.42 341.79,695.39 342.14,695.37 342.50,695.34 342.86,695.31 343.21,695.29 343.57,695.26 343.93,695.23 344.29,695.21 344.64,695.18 345.00,695.15 345.36,695.12 345.71,695.09 346.07,695.07 346.43,695.04 346.79,695.01 347.14,694.98 347.50,694.94 347.86,694.91 348.21,694.88 348.57,694.85 348.93,694.82 349.29,694.78 349.64,694.75 350.00,694.72 350.36,694.68 350.71,694.65 351.07,694.61 351.43,694.57 351.79,694.54 352.14,694.50 352.50,694.46 352.86,694.42 353.21,694.39 353.57,694.35 353.93,694.31 354.29,694.27 354.64,694.22 355.00,694.18 355.36,694.14 355.71,694.10 356.07,694.05 356.43,694.01 356.79,693.96 357.14,693.92 357.50,693.87 357.86,693.82 358.21,693.77 358.57,693.72 358.93,693.67 359.29,693.62 359.64,693.57 360.00,693.52 360.36,693.47 360.71,693.41 361.07,693.36 361.43,693.30 361.79,693.24 362.14,693.18 362.50,693.13 362.86,693.07 363.21,693.00 363.57,692.94 363.93,692.88 364.29,692.81 364.64,692.75 365.00,692.68 365.36,692.61 365.71,692.54 366.07,692.47 366.43,692.40 366.79,692.33 367.14,692.25 367.50,692.17 367.86,692.10 368.21,692.02 368.57,691.93 368.93,691.85 369.29,691.77 369.64,691.68 370.00,691.59 370.36,691.50 370.71,691.41 371.07,691.32 371.43,691.22 371.79,691.12 372.14,691.02 372.50,690.92 372.86,690.82 373.21,690.71 373.57,690.60 373.93,690.49 374.29,690.38 374.64,690.26 375.00,690.14 375.36,690.02 375.71,689.89 376.07,689.76 376.43,689.63 376.79,689.50 377.14,689.36 377.50,689.22 377.86,689.07 378.21,688.92 378.57,688.77 378.93,688.61 379.29,688.45 379.64,688.29 380.00,688.12 380.36,687.95 380.71,687.77 381.07,687.58 381.43,687.39 381.79,687.20 382.14,687.00 382.50,686.80 382.86,686.59 383.21,686.37 383.57,686.15 383.93,685.92 384.29,685.68 384.64,685.44 385.00,685.19 385.36,684.93 385.71,684.67 386.07,684.40 386.43,684.12 386.79,683.83 387.14,683.53 387.50,683.23 387.86,682.91 388.21,682.59 388.57,682.25 388.93,681.91 389.29,681.55 389.64,681.19 390.00,680.81 390.36,680.42 390.71,680.02 391.07,679.61 391.43,679.19 391.79,678.75 392.14,678.30 392.50,677.84 392.86,677.36 393.21,676.87 393.57,676.37 393.93,675.84 394.29,675.31 394.64,674.76 395.00,674.19 395.36,673.61 395.71,673.01 396.07,672.39 396.43,671.76 396.79,671.11 397.14,670.44 397.50,669.75 397.86,669.05 398.21,668.32 398.57,667.58 398.93,666.82 399.29,666.04 399.64,665.23 400.00,664.41 400.36,663.57 400.71,662.71 401.07,661.83 401.43,660.94 401.79,660.02 402.14,659.08 402.50,658.12 402.86,657.15 403.21,656.16 403.57,655.15 403.93,654.12 404.29,653.08 404.64,652.02 405.00,650.95 405.36,649.86 405.71,648.77 406.07,647.66 406.43,646.55 406.79,645.43 407.14,644.31 407.50,643.18 407.86,642.06 408.21,640.94 408.57,639.82 408.93,638.72 409.29,637.63 409.64,636.56 410.00,635.50 410.36,634.48 410.71,633.47 411.07,632.51 411.43,631.57 411.79,630.68 412.14,629.83 412.50,629.04 412.86,628.29 413.21,627.60 413.57,626.97 413.93,626.41 414.29,625.91 414.64,625.49 415.00,625.13 415.36,624.86 415.71,624.66 416.07,624.53 416.43,624.49 416.79,624.52 417.14,624.64 417.50,624.83 417.86,625.10 418.21,625.44 418.57,625.85 418.93,626.34 419.29,626.89 419.64,627.51 420.00,628.19 420.36,628.93 420.71,629.71 421.07,630.55 421.43,631.43 421.79,632.35 422.14,633.31 422.50,634.30 422.86,635.32 423.21,636.37 423.57,637.43 423.93,638.51 424.29,639.60 424.64,640.70 425.00,641.81 425.36,642.92 425.71,644.04 426.07,645.15 426.43,646.26 426.79,647.36 427.14,648.45 427.50,649.54 427.86,650.61 428.21,651.67 428.57,652.72 428.93,653.75 429.29,654.77 429.64,655.77 430.00,656.75 430.36,657.71 430.71,658.65 431.07,659.58 431.43,660.49 431.79,661.38 432.14,662.24 432.50,663.09 432.86,663.92 433.21,664.73 433.57,665.52 433.93,666.29 434.29,667.04 434.64,667.77 435.00,668.48 435.36,669.18 435.71,669.85 436.07,670.51 436.43,671.15 436.79,671.77 437.14,672.37 437.50,672.96 437.86,673.53 438.21,674.09 438.57,674.63 438.93,675.15 439.29,675.66 439.64,676.15 440.00,676.63 440.36,677.09 440.71,677.55 441.07,677.98 441.43,678.41 441.79,678.82 442.14,679.22 442.50,679.61 442.86,679.98 443.21,680.35 443.57,680.70 443.93,681.04 444.29,681.37 444.64,681.69 445.00,682.01 445.36,682.31 445.71,682.60 446.07,682.89 446.43,683.16 446.79,683.43 447.14,683.69 447.50,683.94 447.86,684.18 448.21,684.42 448.57,684.65 448.93,684.87 449.29,685.09 449.64,685.30 450.00,685.50 450.36,685.70 450.71,685.89 451.07,686.07 451.43,686.25 451.79,686.43 452.14,686.60 452.50,686.76 452.86,686.92 453.21,687.08 453.57,687.23 453.93,687.38 454.29,687.52 454.64,687.66 455.00,687.79 455.36,687.92 455.71,688.05 456.07,688.17 456.43,688.29 456.79,688.41 457.14,688.52 457.50,688.64 457.86,688.74 458.21,688.85 458.57,688.95 458.93,689.05 459.29,689.15 459.64,689.24 460.00,689.33 460.36,689.42 460.71,689.51 461.07,689.59 461.43,689.67 461.79,689.75 462.14,689.83 462.50,689.91 462.86,689.98 463.21,690.05 463.57,690.12 463.93,690.19 464.29,690.26 464.64,690.32 465.00,690.38 465.36,690.45 465.71,690.51 466.07,690.56 466.43,690.62 466.79,690.67 467.14,690.73 467.50,690.78 467.86,690.83 468.21,690.88 468.57,690.93 468.93,690.98 469.29,691.02 469.64,691.07 470.00,691.11 470.36,691.15 470.71,691.19 471.07,691.23 471.43,691.27 471.79,691.31 472.14,691.34 472.50,691.38 472.86,691.41 473.21,691.44 473.57,691.48 473.93,691.51 474.29,691.54 474.64,691.56 475.00,691.59 475.36,691.62 475.71,691.65 476.07,691.67 476.43,691.70 476.79,691.72 477.14,691.74 477.50,691.76 477.86,691.78 478.21,691.80 478.57,691.82 478.93,691.84 479.29,691.86 479.64,691.88 480.00,691.89 480.36,691.91 480.71,691.92 481.07,691.94 481.43,691.95 481.79,691.96 482.14,691.97 482.50,691.98 482.86,691.99 483.21,692.00 483.57,692.01 483.93,692.02 484.29,692.03 484.64,692.03 485.00,692.04 485.36,692.04 485.71,692.05 486.07,692.05 486.43,692.05 486.79,692.06 487.14,692.06 487.50,692.06 487.86,692.06 488.21,692.06 488.57,692.06 488.93,692.06 489.29,692.05 489.64,692.05 490.00,692.05 490.36,692.04 490.71,692.04 491.07,692.03 491.43,692.03 491.79,692.02 492.14,692.01 492.50,692.01 492.86,692.00 493.21,691.99 493.57,691.98 493.93,691.97 494.29,691.96 494.64,691.94 495.00,691.93 495.36,691.92 495.71,691.90 496.07,691.89 496.43,691.87 496.79,691.86 497.14,691.84 497.50,691.82 497.86,691.81 498.21,691.79 498.57,691.77 498.93,691.75 499.29,691.73 499.64,691.71 500.00,691.69 500.36,691.66 500.71,691.64 501.07,691.62 501.43,691.59 501.79,691.56 502.14,691.54 502.50,691.51 502.86,691.48 503.21,691.45 503.57,691.43 503.93,691.40 504.29,691.36 504.64,691.33 505.00,691.30 505.36,691.27 505.71,691.23 506.07,691.20 506.43,691.16 506.79,691.13 507.14,691.09 507.50,691.05 507.86,691.01 508.21,690.97 508.57,690.93 508.93,690.89 509.29,690.84 509.64,690.80 510.00,690.76 510.36,690.71 510.71,690.66 511.07,690.61 511.43,690.57 511.79,690.52 512.14,690.46 512.50,690.41 512.86,690.36 513.21,690.31 513.57,690.25 513.93,690.19 514.29,690.14 514.64,690.08 515.00,690.02 515.36,689.96 515.71,689.89 516.07,689.83 516.43,689.76 516.79,689.70 517.14,689.63 517.50,689.56 517.86,689.49 518.21,689.42 518.57,689.34 518.93,689.27 519.29,689.19 519.64,689.11 520.00,689.03 520.36,688.95 520.71,688.87 521.07,688.78 521.43,688.70 521.79,688.61 522.14,688.52 522.50,688.42 522.86,688.33 523.21,688.23 523.57,688.13 523.93,688.03 524.29,687.93 524.64,687.83 525.00,687.72 525.36,687.61 525.71,687.50 526.07,687.38 526.43,687.27 526.79,687.15 527.14,687.03 527.50,686.90 527.86,686.77 528.21,686.64 528.57,686.51 528.93,686.37 529.29,686.23 529.64,686.09 530.00,685.95 530.36,685.80 530.71,685.64 531.07,685.49 531.43,685.33 531.79,685.16 532.14,684.99 532.50,684.82 532.86,684.64 533.21,684.46 533.57,684.28 533.93,684.09 534.29,683.89 534.64,683.69 535.00,683.48 535.36,683.27 535.71,683.06 536.07,682.84 536.43,682.61 536.79,682.37 537.14,682.13 537.50,681.89 537.86,681.63 538.21,681.37 538.57,681.10 538.93,680.83 539.29,680.55 539.64,680.26 540.00,679.96 540.36,679.65 540.71,679.33 541.07,679.01 541.43,678.67 541.79,678.33 542.14,677.98 542.50,677.61 542.86,677.24 543.21,676.85 543.57,676.46 543.93,676.05 544.29,675.63 544.64,675.19 545.00,674.75 545.36,674.29 545.71,673.82 546.07,673.33 546.43,672.83 546.79,672.32 547.14,671.79 547.50,671.24 547.86,670.68 548.21,670.11 548.57,669.51 548.93,668.90 549.29,668.27 549.64,667.62 550.00,666.96 550.36,666.27 550.71,665.57 551.07,664.84 551.43,664.10 551.79,663.33 552.14,662.54 552.50,661.74 552.86,660.90 553.21,660.05 553.57,659.17 553.93,658.27 554.29,657.35 554.64,656.40 555.00,655.43 555.36,654.43 555.71,653.41 556.07,652.36 556.43,651.29 556.79,650.19 557.14,649.06 557.50,647.91 557.86,646.73 558.21,645.53 558.57,644.30 558.93,643.04 559.29,641.76 559.64,640.45 560.00,639.11 560.36,637.75 560.71,636.37 561.07,634.96 561.43,633.53 561.79,632.08 562.14,630.61 562.50,629.12 562.86,627.61 563.21,626.08 563.57,624.54 563.93,622.99 564.29,621.42 564.64,619.85 565.00,618.28 565.36,616.70 565.71,615.12 566.07,613.55 566.43,611.99 566.79,610.44 567.14,608.90 567.50,607.39 567.86,605.90 568.21,604.44 568.57,603.02 568.93,601.64 569.29,600.30 569.64,599.02 570.00,597.79 570.36,596.63 570.71,595.53 571.07,594.50 571.43,593.55 571.79,592.68 572.14,591.90 572.50,591.21 572.86,590.61 573.21,590.11 573.57,589.71 573.93,589.41 574.29,589.22 574.64,589.13 575.00,589.15 575.36,589.27 575.71,589.50 576.07,589.83 576.43,590.27 576.79,590.80 577.14,591.43 577.50,592.15 577.86,592.96 578.21,593.85 578.57,594.83 578.93,595.88 579.29,597.00 579.64,598.19 580.00,599.43 580.36,600.73 580.71,602.08 581.07,603.47 581.43,604.90 581.79,606.36 582.14,607.86 582.50,609.37 582.86,610.91 583.21,612.46 583.57,614.02 583.93,615.58 584.29,617.16 584.64,618.73 585.00,620.29 585.36,621.86 585.71,623.41 586.07,624.95 586.43,626.48 586.79,627.99 587.14,629.49 587.50,630.97 587.86,632.42 588.21,633.86 588.57,635.27 588.93,636.67 589.29,638.03 589.64,639.38 590.00,640.69 590.36,641.99 590.71,643.25 591.07,644.49 591.43,645.71 591.79,646.90 592.14,648.06 592.50,649.19 592.86,650.30 593.21,651.38 593.57,652.44 593.93,653.47 594.29,654.48 594.64,655.46 595.00,656.42 595.36,657.35 595.71,658.26 596.07,659.14 596.43,660.00 596.79,660.84 597.14,661.65 597.50,662.45 597.86,663.22 598.21,663.97 598.57,664.70 598.93,665.41 599.29,666.10 599.64,666.77 600.00,667.42 600.36,668.06 600.71,668.67 601.07,669.27 601.43,669.85 601.79,670.42 602.14,670.97 602.50,671.50 602.86,672.02 603.21,672.52 603.57,673.01 603.93,673.48 604.29,673.94 604.64,674.39 605.00,674.82 605.36,675.24 605.71,675.65 606.07,676.05 606.43,676.43 606.79,676.81 607.14,677.17 607.50,677.53 607.86,677.87 608.21,678.20 608.57,678.53 608.93,678.84 609.29,679.15 609.64,679.45 610.00,679.73 610.36,680.02 610.71,680.29 611.07,680.55 611.43,680.81 611.79,681.06 612.14,681.31 612.50,681.55 612.86,681.78 613.21,682.00 613.57,682.22 613.93,682.44 614.29,682.64 614.64,682.85 615.00,683.04 615.36,683.24 615.71,683.42 616.07,683.60 616.43,683.78 616.79,683.96 617.14,684.12 617.50,684.29 617.86,684.45 618.21,684.61 618.57,684.76 618.93,684.91 619.29,685.05 619.64,685.20 620.00,685.33 620.36,685.47 620.71,685.60 621.07,685.73 621.43,685.86 621.79,685.98 622.14,686.10 622.50,686.22 622.86,686.33 623.21,686.44 623.57,686.55 623.93,686.66 624.29,686.77 624.64,686.87 625.00,686.97 625.36,687.07 625.71,687.16 626.07,687.26 626.43,687.35 626.79,687.44 627.14,687.53 627.50,687.61 627.86,687.70 628.21,687.78 628.57,687.86 628.93,687.94 629.29,688.01 629.64,688.09 630.00,688.16 630.36,688.23 630.71,688.31 631.07,688.37 631.43,688.44 631.79,688.51 632.14,688.57 632.50,688.64 632.86,688.70 633.21,688.76 633.57,688.82 633.93,688.88 634.29,688.93 634.64,688.99 635.00,689.04 635.36,689.10 635.71,689.15 636.07,689.20 636.43,689.25 636.79,689.30 637.14,689.34 637.50,689.39 637.86,689.44 638.21,689.48 638.57,689.53 638.93,689.57 639.29,689.61 639.64,689.65 640.00,689.69 640.36,689.73 640.71,689.77 641.07,689.80 641.43,689.84 641.79,689.88 642.14,689.91 642.50,689.94 642.86,689.98 643.21,690.01 643.57,690.04 643.93,690.07 644.29,690.10 644.64,690.13 645.00,690.16 645.36,690.18 645.71,690.21 646.07,690.24 646.43,690.26 646.79,690.29 647.14,690.31 647.50,690.34 647.86,690.36 648.21,690.38 648.57,690.40 648.93,690.42 649.29,690.44 649.64,690.46 650.00,690.48 650.36,690.50 650.71,690.52 651.07,690.53 651.43,690.55 651.79,690.57 652.14,690.58 652.50,690.60 652.86,690.61 653.21,690.63 653.57,690.64 653.93,690.65 654.29,690.66 654.64,690.68 655.00,690.69 655.36,690.70 655.71,690.71 656.07,690.72 656.43,690.73 656.79,690.73 657.14,690.74 657.50,690.75 657.86,690.76 658.21,690.76 658.57,690.77 658.93,690.78 659.29,690.78 659.64,690.79 660.00,690.79 660.36,690.79 660.71,690.80 661.07,690.80 661.43,690.80 661.79,690.80 662.14,690.81 662.50,690.81 662.86,690.81 663.21,690.81 663.57,690.81 663.93,690.81 664.29,690.81 664.64,690.81 665.00,690.80 665.36,690.80 665.71,690.80 666.07,690.80 666.43,690.79 666.79,690.79 667.14,690.78 667.50,690.78 667.86,690.77 668.21,690.77 668.57,690.76 668.93,690.76 669.29,690.75 669.64,690.74 670.00,690.74 670.36,690.73 670.71,690.72 671.07,690.71 671.43,690.70 671.79,690.69 672.14,690.68 672.50,690.67 672.86,690.66 673.21,690.65 673.57,690.64 673.93,690.63 674.29,690.61 674.64,690.60 675.00,690.59 675.36,690.57 675.71,690.56 676.07,690.55 676.43,690.53 676.79,690.52 677.14,690.50 677.50,690.49 677.86,690.47 678.21,690.45 678.57,690.44 678.93,690.42 679.29,690.40 679.64,690.38 680.00,690.36 680.36,690.34 680.71,690.32 681.07,690.30 681.43,690.28 681.79,690.26 682.14,690.24 682.50,690.22 682.86,690.20 683.21,690.18 683.57,690.15 683.93,690.13 684.29,690.11 684.64,690.08 685.00,690.06 685.36,690.03 685.71,690.01 686.07,689.98 686.43,689.95 686.79,689.93 687.14,689.90 687.50,689.87 687.86,689.84 688.21,689.81 688.57,689.79 688.93,689.76 689.29,689.73 689.64,689.70 690.00,689.66 690.36,689.63 690.71,689.60 691.07,689.57 691.43,689.54 691.79,689.50 692.14,689.47 692.50,689.43 692.86,689.40 693.21,689.36 693.57,689.33 693.93,689.29 694.29,689.25 694.64,689.22 695.00,689.18 695.36,689.14 695.71,689.10 696.07,689.06 696.43,689.02 696.79,688.98 697.14,688.94 697.50,688.90 697.86,688.85 698.21,688.81 698.57,688.77 698.93,688.72 699.29,688.68 699.64,688.63 700.00,688.59 700.36,688.54 700.71,688.49 701.07,688.44 701.43,688.39 701.79,688.35 702.14,688.30 702.50,688.24 702.86,688.19 703.21,688.14 703.57,688.09 703.93,688.03 704.29,687.98 704.64,687.93 705.00,687.87 705.36,687.81 705.71,687.76 706.07,687.70 706.43,687.64 706.79,687.58 707.14,687.52 707.50,687.46 707.86,687.40 708.21,687.33 708.57,687.27 708.93,687.20 709.29,687.14 709.64,687.07 710.00,687.00 710.36,686.94 710.71,686.87 711.07,686.80 711.43,686.73 711.79,686.65 712.14,686.58 712.50,686.51 712.86,686.43 713.21,686.36 713.57,686.28 713.93,686.20 714.29,686.12 714.64,686.04 715.00,685.96 715.36,685.88 715.71,685.79 716.07,685.71 716.43,685.62 716.79,685.53 717.14,685.44 717.50,685.35 717.86,685.26 718.21,685.17 718.57,685.07 718.93,684.98 719.29,684.88 719.64,684.78 720.00,684.68 720.36,684.58 720.71,684.48 721.07,684.37 721.43,684.26 721.79,684.16 722.14,684.05 722.50,683.93 722.86,683.82 723.21,683.71 723.57,683.59 723.93,683.47 724.29,683.35 724.64,683.23 725.00,683.10 725.36,682.97 725.71,682.85 726.07,682.71 726.43,682.58 726.79,682.44 727.14,682.31 727.50,682.17 727.86,682.02 728.21,681.88 728.57,681.73 728.93,681.58 729.29,681.43 729.64,681.27 730.00,681.11 730.36,680.95 730.71,680.78 731.07,680.61 731.43,680.44 731.79,680.27 732.14,680.09 732.50,679.91 732.86,679.72 733.21,679.53 733.57,679.34 733.93,679.14 734.29,678.94 734.64,678.74 735.00,678.53 735.36,678.32 735.71,678.10 736.07,677.88 736.43,677.65 736.79,677.42 737.14,677.18 737.50,676.94 737.86,676.69 738.21,676.44 738.57,676.18 738.93,675.91 739.29,675.64 739.64,675.37 740.00,675.08 740.36,674.79 740.71,674.50 741.07,674.20 741.43,673.89 741.79,673.57 742.14,673.24 742.50,672.91 742.86,672.57 743.21,672.22 743.57,671.87 743.93,671.51 744.29,671.13 744.64,670.75 745.00,670.37 745.36,669.97 745.71,669.56 746.07,669.15 746.43,668.72 746.79,668.29 747.14,667.85 747.50,667.40 747.86,666.95 748.21,666.48 748.57,666.01 748.93,665.53 749.29,665.04 749.64,664.54 750.00,664.04 750.36,663.54 750.71,663.02 751.07,662.51 751.43,661.99 751.79,661.47 752.14,660.95 752.50,660.43 752.86,659.91 753.21,659.39 753.57,658.88 753.93,658.37 754.29,657.87 754.64,657.38 755.00,656.90 755.36,656.43 755.71,655.97 756.07,655.53 756.43,655.10 756.79,654.69 757.14,654.29 757.50,653.91 757.86,653.55 758.21,653.21 758.57,652.88 758.93,652.58 759.29,652.29 759.64,652.01 760.00,651.76 760.36,651.51 760.71,651.28 761.07,651.07 761.43,650.86 761.79,650.67 762.14,650.48 762.50,650.30 762.86,650.12 763.21,649.94 763.57,649.77 763.93,649.59 764.29,649.42 764.64,649.23 765.00,649.05 765.36,648.85 765.71,648.65 766.07,648.44 766.43,648.22 766.79,647.99 767.14,647.74 767.50,647.49 767.86,647.21 768.21,646.93 768.57,646.62 768.93,646.31 769.29,645.97 769.64,645.62 770.00,645.25 770.36,644.86 770.71,644.45 771.07,644.03 771.43,643.58 771.79,643.12 772.14,642.63 772.50,642.13 772.86,641.60 773.21,641.05 773.57,640.49 773.93,639.90 774.29,639.28 774.64,638.65 775.00,637.99 775.36,637.31 775.71,636.61 776.07,635.88 776.43,635.13 776.79,634.35 777.14,633.55 777.50,632.72 777.86,631.87 778.21,630.99 778.57,630.08 778.93,629.14 779.29,628.18 779.64,627.18 780.00,626.16 780.36,625.10 780.71,624.02 781.07,622.90 781.43,621.75 781.79,620.56 782.14,619.34 782.50,618.09 782.86,616.80 783.21,615.47 783.57,614.10 783.93,612.70 784.29,611.25 784.64,609.76 785.00,608.23 785.36,606.65 785.71,605.03" stroke-width="3.97" stroke-linecap="round" stroke-dasharray="9.5 15.25" stroke-dashoffset="13.82"/>
<path d="M785.71,605.03 786.07,603.37 786.43,601.65 786.79,599.88 787.14,598.07 787.50,596.20 787.86,594.28 788.21,592.30 788.57,590.27 788.93,588.17 789.29,586.02 789.64,583.80 790.00,581.52 790.36,579.18 790.71,576.76 791.07,574.28 791.43,571.72 791.79,569.09 792.14,566.38 792.50,563.60 792.86,560.74 793.21,557.79 793.57,554.76 793.93,551.64 794.29,548.43 794.64,545.13 795.00,541.73 795.36,538.24 795.71,534.65 796.07,530.95 796.43,527.16 796.79,523.25 797.14,519.24 797.50,515.12 797.86,510.88 798.21,506.53 798.57,502.07 798.93,497.48 799.29,492.77 799.64,487.95 800.00,482.99 800.36,477.92 800.71,472.71 801.07,467.39 801.43,461.93 801.79,456.35 802.14,450.65 802.50,444.82 802.86,438.87 803.21,432.80 803.57,426.61 803.93,420.31 804.29,413.90 804.64,407.39 805.00,400.78 805.36,394.08 805.71,387.30 806.07,380.44 806.43,373.53 806.79,366.57 807.14,359.57 807.50,352.55 807.86,345.52 808.21,338.50 808.57,331.52 808.93,324.58 809.29,317.72 809.64,310.95 810.00,304.29 810.36,297.78 810.71,291.44 811.07,285.29 811.43,279.36 811.79,273.68 812.14,268.27 812.50,263.17 812.86,258.40 813.21,253.98 813.57,249.94 813.93,246.30 814.29,243.09 814.64,240.32 815.00,238.01 815.36,236.18 815.71,234.83 816.07,233.98 816.43,233.62 816.79,233.77 817.14,234.43 817.50,235.58 817.86,237.22 818.21,239.33 818.57,241.92 818.93,244.95 819.29,248.41 819.64,252.29 820.00,256.55 820.36,261.17 820.71,266.14 821.07,271.41 821.43,276.97 821.79,282.78 822.14,288.83 822.50,295.08 822.86,301.50 823.21,308.08 823.57,314.78 823.93,321.58 824.29,328.46 824.64,335.39 825.00,342.37 825.36,349.36 825.71,356.35 826.07,363.32 826.43,370.26 826.79,377.15 827.14,383.99 827.50,390.76 827.86,397.45 828.21,404.05 828.57,410.56 828.93,416.97 829.29,423.27 829.64,429.45 830.00,435.52 830.36,441.47 830.71,447.30 831.07,453.01 831.43,458.59 831.79,464.04 832.14,469.37 832.50,474.57 832.86,479.64 833.21,484.59 833.57,489.41 833.93,494.11 834.29,498.69 834.64,503.14 835.00,507.48 835.36,511.70 835.71,515.81 836.07,519.80 836.43,523.69 836.79,527.46 837.14,531.13 837.50,534.70 837.86,538.16 838.21,541.53 838.57,544.79 838.93,547.97 839.29,551.05 839.64,554.04 840.00,556.94 840.36,559.76 840.71,562.49 841.07,565.15 841.43,567.72 841.79,570.21 842.14,572.63 842.50,574.98 842.86,577.26 843.21,579.46 843.57,581.60 843.93,583.67 844.29,585.68 844.64,587.62 845.00,589.50 845.36,591.32 845.71,593.08 846.07,594.79 846.43,596.44" stroke-width="3.97" stroke-linecap="round" stroke-dasharray="9.5 15.25" stroke-dashoffset="2.88"/>
<path d="M846.43,596.44 846.79,598.03 847.14,599.57 847.50,601.06 847.86,602.49 848.21,603.88 848.57,605.21 848.93,606.50 849.29,607.74 849.64,608.94 850.00,610.08 850.36,611.19 850.71,612.25 851.07,613.26 851.43,614.23 851.79,615.17 852.14,616.05 852.50,616.90 852.86,617.71 853.21,618.48 853.57,619.21 853.93,619.90 854.29,620.55 854.64,621.16 855.00,621.74 855.36,622.27 855.71,622.77 856.07,623.24 856.43,623.67 856.79,624.06 857.14,624.41 857.50,624.73 857.86,625.02 858.21,625.27 858.57,625.49 858.93,625.67 859.29,625.82 859.64,625.93 860.00,626.01 860.36,626.06 860.71,626.07 861.07,626.05 861.43,626.00 861.79,625.92 862.14,625.80 862.50,625.66 862.86,625.48 863.21,625.27 863.57,625.03 863.93,624.76 864.29,624.47 864.64,624.14 865.00,623.78 865.36,623.40 865.71,622.99 866.07,622.55 866.43,622.09 866.79,621.60 867.14,621.09 867.50,620.55 867.86,619.99 868.21,619.41 868.57,618.80 868.93,618.18 869.29,617.53 869.64,616.87 870.00,616.20 870.36,615.50 870.71,614.80 871.07,614.08 871.43,613.35 871.79,612.61 872.14,611.86 872.50,611.11 872.86,610.35 873.21,609.59 873.57,608.83 873.93,608.08 874.29,607.32 874.64,606.58 875.00,605.85 875.36,605.12 875.71,604.42 876.07,603.73 876.43,603.06 876.79,602.42 877.14,601.80 877.50,601.21 877.86,600.65 878.21,600.13 878.57,599.65 878.93,599.21 879.29,598.81 879.64,598.46 880.00,598.16 880.36,597.90 880.71,597.71 881.07,597.56 881.43,597.48 881.79,597.45 882.14,597.48 882.50,597.58 882.86,597.73 883.21,597.95 883.57,598.23 883.93,598.57 884.29,598.98 884.64,599.44 885.00,599.97 885.36,600.55 885.71,601.19 886.07,601.89 886.43,602.64 886.79,603.44 887.14,604.28 887.50,605.18 887.86,606.12 888.21,607.10 888.57,608.11 888.93,609.17 889.29,610.25 889.64,611.37 890.00,612.51 890.36,613.68 890.71,614.87 891.07,616.08 891.43,617.30 891.79,618.54 892.14,619.79 892.50,621.05 892.86,622.32 893.21,623.59 893.57,624.87 893.93,626.14 894.29,627.42 894.64,628.69 895.00,629.96 895.36,631.23 895.71,632.49 896.07,633.74 896.43,634.98 896.79,636.21 897.14,637.43 897.50,638.64 897.86,639.83 898.21,641.01 898.57,642.18 898.93,643.33 899.29,644.46 899.64,645.58 900.00,646.68 900.36,647.76 900.71,648.83 901.07,649.88 901.43,650.90 901.79,651.91 902.14,652.90 902.50,653.87 902.86,654.82 903.21,655.76 903.57,656.67 903.93,657.56 904.29,658.44 904.64,659.29 905.00,660.12 905.36,660.94 905.71,661.73 906.07,662.51 906.43,663.27 906.79,664.01 907.14,664.73 907.50,665.43 907.86,666.11 908.21,666.78 908.57,667.42 908.93,668.05 909.29,668.67 909.64,669.26 910.00,669.84 910.36,670.41 910.71,670.95 911.07,671.48 911.43,672.00 911.79,672.50 912.14,672.99 912.50,673.46 912.86,673.92 913.21,674.37 913.57,674.80 913.93,675.22 914.29,675.63 914.64,676.02 915.00,676.40 915.36,676.77 915.71,677.13 916.07,677.48 916.43,677.82 916.79,678.15 917.14,678.47 917.50,678.78 917.86,679.08 918.21,679.37 918.57,679.66 918.93,679.93 919.29,680.20 919.64,680.46 920.00,680.71 920.36,680.95 920.71,681.19 921.07,681.42 921.43,681.65 921.79,681.87 922.14,682.08 922.50,682.28 922.86,682.49 923.21,682.68 923.57,682.87 923.93,683.06 924.29,683.24 924.64,683.42 925.00,683.59 925.36,683.76 925.71,683.92 926.07,684.08 926.43,684.24 926.79,684.39 927.14,684.54 927.50,684.69 927.86,684.83 928.21,684.97 928.57,685.10 928.93,685.24 929.29,685.37 929.64,685.50 930.00,685.62 930.36,685.75 930.71,685.87 931.07,685.99 931.43,686.10 931.79,686.22 932.14,686.33 932.50,686.44 932.86,686.55 933.21,686.66 933.57,686.76 933.93,686.86 934.29,686.97 934.64,687.07 935.00,687.16 935.36,687.26 935.71,687.36 936.07,687.45 936.43,687.54 936.79,687.63 937.14,687.72 937.50,687.81 937.86,687.90 938.21,687.98 938.57,688.07 938.93,688.15 939.29,688.23 939.64,688.31 940.00,688.39 940.36,688.47 940.71,688.55 941.07,688.63 941.43,688.70 941.79,688.78 942.14,688.85 942.50,688.92 942.86,688.99 943.21,689.06 943.57,689.14 943.93,689.20 944.29,689.27 944.64,689.34 945.00,689.41 945.36,689.47 945.71,689.54 946.07,689.60 946.43,689.67 946.79,689.73 947.14,689.79 947.50,689.85 947.86,689.91 948.21,689.97 948.57,690.03 948.93,690.09 949.29,690.15 949.64,690.21 950.00,690.26 950.36,690.32 950.71,690.38 951.07,690.43 951.43,690.49 951.79,690.54 952.14,690.59 952.50,690.65 952.86,690.70 953.21,690.75 953.57,690.80 953.93,690.85 954.29,690.90 954.64,690.95 955.00,691.00 955.36,691.05 955.71,691.10 956.07,691.14 956.43,691.19 956.79,691.24 957.14,691.28 957.50,691.33 957.86,691.37 958.21,691.42 958.57,691.46 958.93,691.51 959.29,691.55 959.64,691.59 960.00,691.64 960.36,691.68 960.71,691.72 961.07,691.76 961.43,691.80" stroke-width="3.97" stroke-linecap="round" stroke-dasharray="9.5 15.25" stroke-dashoffset="22.72"/>
</g></svg>
</body></html>
